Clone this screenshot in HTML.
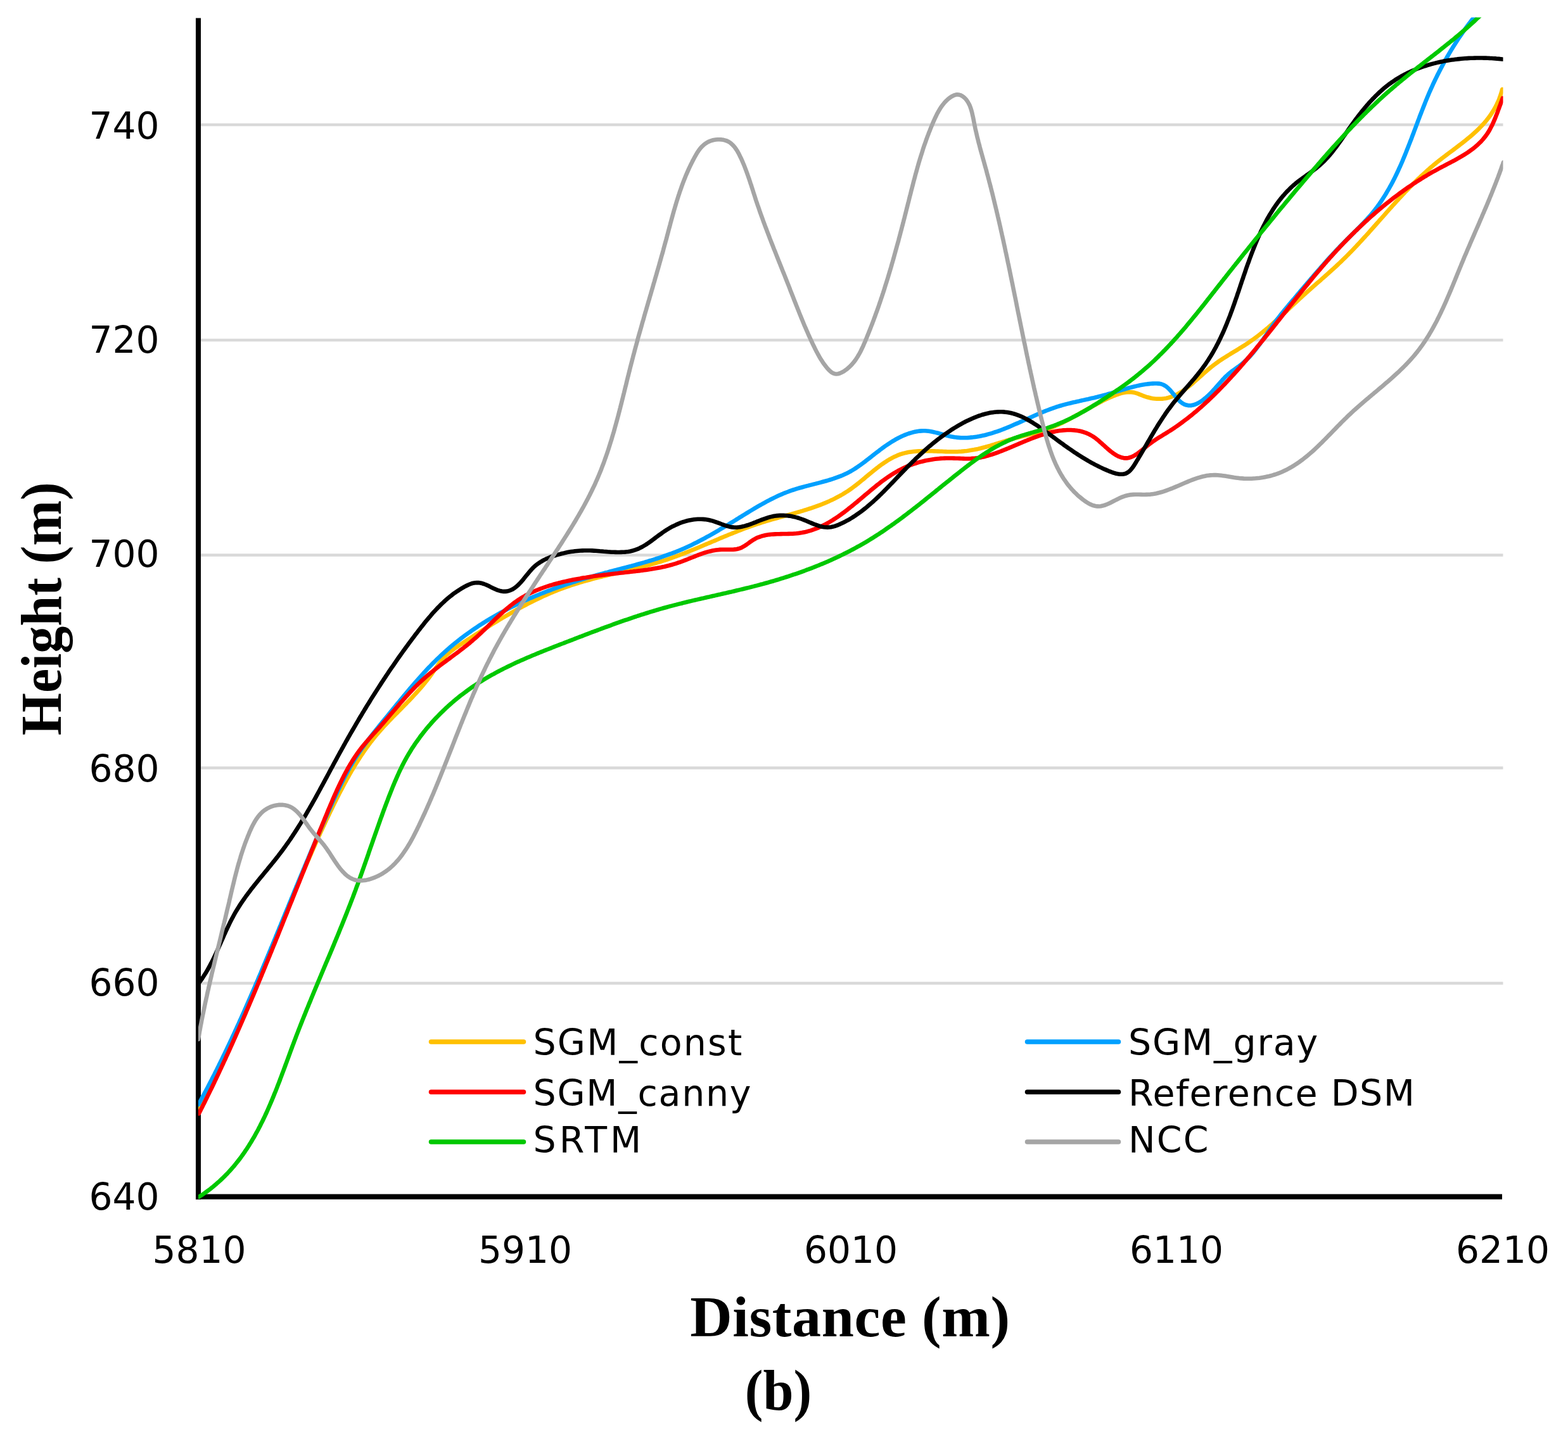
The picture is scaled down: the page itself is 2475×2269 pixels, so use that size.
<!DOCTYPE html>
<html><head><meta charset="utf-8"><title>Height profile (b)</title>
<style>
html,body{margin:0;padding:0;background:#fff;}
body{width:2475px;height:2269px;overflow:hidden;position:relative;}
svg{position:absolute;left:0;top:0;display:block;}
.tick{font-family:"DejaVu Sans","Liberation Sans",sans-serif;font-size:58.2px;fill:#000;}
.leg{font-family:"DejaVu Sans","Liberation Sans",sans-serif;font-size:57px;fill:#000;}
.title{font-family:"Liberation Serif","Times New Roman",serif;font-weight:bold;font-size:92px;fill:#000;}
</style></head>
<body>
<svg width="2475" height="2269" viewBox="0 0 2475 2269" xmlns="http://www.w3.org/2000/svg">
<defs><clipPath id="plot"><rect x="313" y="27.5" width="2059.5" height="1868"/></clipPath></defs>
<rect x="0" y="0" width="2475" height="2269" fill="#fff"/>
<g stroke="#d9d9d9" stroke-width="4.5">
<line x1="317" y1="197" x2="2372.5" y2="197"/>
<line x1="317" y1="537" x2="2372.5" y2="537"/>
<line x1="317" y1="876.5" x2="2372.5" y2="876.5"/>
<line x1="317" y1="1212.5" x2="2372.5" y2="1212.5"/>
<line x1="317" y1="1552.5" x2="2372.5" y2="1552.5"/>
</g>
<line x1="313" y1="28.5" x2="313" y2="1894" stroke="#000" stroke-width="8"/>
<line x1="309" y1="1889.6" x2="2371" y2="1889.6" stroke="#000" stroke-width="8.2"/>
<g clip-path="url(#plot)" fill="none" stroke-width="6.6" stroke-linejoin="round" stroke-linecap="round">
<path stroke="#FFC000" d="M313.0 1752.0L314.4 1749.4L315.9 1746.8L317.3 1744.1L318.8 1741.5L320.2 1738.9L321.6 1736.2L323.1 1733.6L324.5 1730.9L325.9 1728.3L327.3 1725.6L328.7 1723.0L330.1 1720.3L331.4 1717.7L332.8 1715.0L334.2 1712.3L335.5 1709.7L336.9 1707.0L338.3 1704.3L339.6 1701.6L340.9 1698.9L342.3 1696.3L343.6 1693.6L344.9 1690.9L346.3 1688.2L347.6 1685.5L348.9 1682.8L350.2 1680.1L351.5 1677.4L352.8 1674.7L354.1 1672.0L355.4 1669.3L356.6 1666.6L357.9 1663.9L359.2 1661.2L360.5 1658.5L361.7 1655.7L363.0 1653.0L364.2 1650.3L365.5 1647.6L366.7 1644.9L368.0 1642.1L369.2 1639.4L370.5 1636.7L371.7 1633.9L372.9 1631.2L374.1 1628.5L375.4 1625.7L376.6 1623.0L377.8 1620.3L379.0 1617.5L380.2 1614.8L381.4 1612.0L382.6 1609.3L383.8 1606.5L385.0 1603.8L386.2 1601.0L387.4 1598.3L388.5 1595.5L389.7 1592.8L390.9 1590.0L392.1 1587.3L393.3 1584.5L394.4 1581.7L395.6 1579.0L396.8 1576.2L397.9 1573.5L399.1 1570.7L400.2 1567.9L401.4 1565.2L402.5 1562.4L403.7 1559.6L404.8 1556.9L406.0 1554.1L407.1 1551.3L408.3 1548.5L409.4 1545.8L410.6 1543.0L411.7 1540.2L412.9 1537.5L414.0 1534.7L415.1 1531.9L416.3 1529.1L417.4 1526.3L418.5 1523.6L419.7 1520.8L420.8 1518.0L421.9 1515.2L423.0 1512.5L424.2 1509.7L425.3 1506.9L426.4 1504.1L427.6 1501.3L428.7 1498.6L429.8 1495.8L430.9 1493.0L432.1 1490.2L433.2 1487.4L434.3 1484.7L435.4 1481.9L436.5 1479.1L437.7 1476.3L438.8 1473.5L439.9 1470.8L441.0 1468.0L442.2 1465.2L443.3 1462.4L444.4 1459.6L445.5 1456.9L446.7 1454.1L447.8 1451.3L448.9 1448.5L450.0 1445.7L451.2 1443.0L452.3 1440.2L453.4 1437.4L454.6 1434.6L455.7 1431.8L456.8 1429.1L458.0 1426.3L459.1 1423.5L460.3 1420.7L461.4 1418.0L462.5 1415.2L463.7 1412.4L464.8 1409.7L466.0 1406.9L467.1 1404.1L468.3 1401.4L469.4 1398.6L470.6 1395.8L471.7 1393.1L472.9 1390.3L474.0 1387.5L475.2 1384.8L476.4 1382.0L477.5 1379.2L478.7 1376.5L479.9 1373.7L481.1 1371.0L482.2 1368.2L483.4 1365.5L484.6 1362.7L485.8 1360.0L487.0 1357.2L488.2 1354.5L489.4 1351.7L490.6 1349.0L491.8 1346.2L493.0 1343.5L494.2 1340.7L495.4 1338.0L496.6 1335.3L497.8 1332.5L499.0 1329.8L500.3 1327.1L501.5 1324.3L502.7 1321.6L504.0 1318.9L505.2 1316.1L506.5 1313.4L507.7 1310.7L509.0 1308.0L510.2 1305.3L511.5 1302.5L512.8 1299.8L514.0 1297.1L515.3 1294.4L516.6 1291.7L517.9 1289.0L519.2 1286.3L520.5 1283.6L521.8 1280.9L523.1 1278.2L524.4 1275.5L525.7 1272.8L527.0 1270.1L528.3 1267.4L529.7 1264.7L531.0 1262.1L532.3 1259.4L533.7 1256.7L535.0 1254.0L536.4 1251.4L537.8 1248.7L539.2 1246.1L540.6 1243.4L542.0 1240.8L543.4 1238.1L544.8 1235.5L546.2 1232.9L547.6 1230.2L549.1 1227.6L550.6 1225.0L552.0 1222.4L553.5 1219.8L555.0 1217.2L556.5 1214.7L558.1 1212.1L559.6 1209.5L561.1 1207.0L562.7 1204.5L564.3 1201.9L565.9 1199.4L567.5 1196.9L569.1 1194.4L570.8 1191.9L572.5 1189.5L574.1 1187.0L575.8 1184.6L577.6 1182.1L579.3 1179.7L581.1 1177.3L582.8 1174.9L584.6 1172.5L586.5 1170.2L588.3 1167.8L590.2 1165.5L592.0 1163.2L593.9 1160.9L595.9 1158.6L597.8 1156.3L599.8 1154.0L601.8 1151.8L603.8 1149.5L605.8 1147.3L607.8 1145.1L609.9 1142.9L612.0 1140.7L614.0 1138.5L616.1 1136.4L618.2 1134.2L620.3 1132.0L622.4 1129.9L624.6 1127.7L626.7 1125.6L628.8 1123.4L630.9 1121.3L633.1 1119.1L635.2 1116.9L637.3 1114.8L639.4 1112.6L641.6 1110.5L643.7 1108.3L645.8 1106.1L647.9 1103.9L650.0 1101.7L652.0 1099.5L654.1 1097.3L656.1 1095.1L658.2 1092.9L660.2 1090.6L662.2 1088.4L664.2 1086.1L666.1 1083.8L668.1 1081.5L670.0 1079.2L671.9 1076.8L673.8 1074.5L675.6 1072.1L677.4 1069.7L679.2 1067.3L681.0 1064.8L682.7 1062.3L684.4 1059.9L686.1 1057.4L687.8 1054.9L689.6 1052.5L691.3 1050.0L693.1 1047.6L694.9 1045.3L696.7 1043.0L698.6 1040.8L700.6 1038.6L702.7 1036.5L704.8 1034.4L707.0 1032.5L709.2 1030.6L711.5 1028.7L713.8 1026.9L716.2 1025.1L718.6 1023.4L721.0 1021.7L723.4 1020.0L725.9 1018.3L728.4 1016.7L730.9 1015.0L733.4 1013.4L735.9 1011.7L738.4 1010.1L741.0 1008.5L743.5 1006.8L746.0 1005.2L748.5 1003.5L751.1 1001.9L753.6 1000.3L756.1 998.7L758.7 997.0L761.2 995.4L763.8 993.8L766.3 992.2L768.9 990.6L771.4 989.0L774.0 987.4L776.5 985.8L779.1 984.2L781.7 982.6L784.3 981.1L786.8 979.5L789.4 977.9L792.0 976.4L794.6 974.8L797.2 973.3L799.8 971.8L802.4 970.3L805.0 968.8L807.6 967.3L810.3 965.8L812.9 964.3L815.5 962.8L818.2 961.4L820.8 959.9L823.5 958.5L826.1 957.1L828.8 955.7L831.4 954.3L834.1 952.9L836.8 951.5L839.5 950.2L842.2 948.9L844.8 947.5L847.5 946.2L850.3 944.9L853.0 943.7L855.7 942.4L858.4 941.1L861.1 939.9L863.9 938.7L866.6 937.5L869.4 936.3L872.1 935.2L874.9 934.0L877.7 932.9L880.4 931.8L883.2 930.7L886.0 929.7L888.8 928.6L891.6 927.6L894.4 926.6L897.3 925.6L900.1 924.6L902.9 923.7L905.8 922.8L908.6 921.9L911.5 921.0L914.3 920.1L917.2 919.2L920.1 918.4L922.9 917.6L925.8 916.8L928.7 916.0L931.6 915.2L934.5 914.4L937.4 913.6L940.3 912.9L943.2 912.1L946.1 911.4L949.0 910.7L951.9 909.9L954.8 909.2L957.7 908.5L960.7 907.8L963.6 907.1L966.5 906.4L969.4 905.7L972.3 905.0L975.3 904.3L978.2 903.6L981.1 902.9L984.0 902.2L987.0 901.5L989.9 900.8L992.8 900.1L995.7 899.4L998.6 898.7L1001.5 898.0L1004.5 897.3L1007.4 896.5L1010.3 895.8L1013.2 895.1L1016.1 894.3L1019.0 893.5L1021.9 892.8L1024.8 892.0L1027.6 891.2L1030.5 890.4L1033.4 889.5L1036.3 888.7L1039.1 887.8L1042.0 887.0L1044.8 886.1L1047.7 885.2L1050.5 884.3L1053.4 883.3L1056.2 882.4L1059.0 881.4L1061.8 880.4L1064.6 879.4L1067.4 878.4L1070.2 877.3L1073.0 876.3L1075.8 875.2L1078.6 874.2L1081.4 873.1L1084.2 872.0L1087.0 870.9L1089.7 869.8L1092.5 868.6L1095.3 867.5L1098.0 866.4L1100.8 865.2L1103.6 864.1L1106.3 862.9L1109.1 861.8L1111.8 860.6L1114.6 859.4L1117.3 858.3L1120.1 857.1L1122.8 855.9L1125.6 854.8L1128.4 853.6L1131.1 852.4L1133.9 851.3L1136.6 850.1L1139.4 848.9L1142.1 847.8L1144.9 846.6L1147.7 845.5L1150.4 844.3L1153.2 843.2L1156.0 842.1L1158.7 841.0L1161.5 839.9L1164.3 838.7L1167.1 837.7L1169.8 836.6L1172.6 835.5L1175.4 834.4L1178.2 833.4L1181.0 832.4L1183.8 831.4L1186.7 830.4L1189.5 829.4L1192.3 828.4L1195.1 827.4L1198.0 826.5L1200.8 825.6L1203.7 824.7L1206.5 823.8L1209.4 822.9L1212.3 822.1L1215.1 821.2L1218.0 820.4L1220.9 819.6L1223.8 818.8L1226.6 818.0L1229.5 817.1L1232.4 816.3L1235.3 815.6L1238.2 814.8L1241.1 814.0L1244.0 813.2L1246.8 812.4L1249.7 811.6L1252.6 810.8L1255.5 809.9L1258.3 809.1L1261.2 808.3L1264.1 807.4L1266.9 806.6L1269.8 805.7L1272.6 804.8L1275.5 803.9L1278.3 803.0L1281.1 802.1L1283.9 801.1L1286.7 800.1L1289.5 799.1L1292.3 798.1L1295.1 797.1L1297.9 796.0L1300.6 794.9L1303.4 793.7L1306.1 792.6L1308.8 791.4L1311.5 790.1L1314.2 788.9L1316.9 787.6L1319.5 786.2L1322.2 784.8L1324.8 783.4L1327.4 782.0L1330.0 780.5L1332.6 778.9L1335.1 777.3L1337.7 775.7L1340.2 774.0L1342.7 772.2L1345.2 770.5L1347.6 768.6L1350.1 766.8L1352.5 764.9L1355.0 763.0L1357.4 761.0L1359.8 759.0L1362.2 757.1L1364.6 755.1L1366.9 753.1L1369.3 751.1L1371.7 749.1L1374.1 747.2L1376.5 745.2L1378.9 743.2L1381.3 741.3L1383.7 739.4L1386.1 737.6L1388.5 735.7L1391.0 733.9L1393.4 732.2L1395.9 730.5L1398.3 728.9L1400.8 727.3L1403.4 725.7L1405.9 724.3L1408.5 722.9L1411.0 721.6L1413.6 720.4L1416.3 719.2L1418.9 718.2L1421.6 717.2L1424.4 716.3L1427.1 715.6L1429.9 714.9L1432.7 714.3L1435.6 713.8L1438.5 713.4L1441.4 713.0L1444.3 712.7L1447.2 712.5L1450.2 712.3L1453.1 712.2L1456.1 712.1L1459.1 712.1L1462.2 712.1L1465.2 712.1L1468.2 712.2L1471.3 712.3L1474.3 712.4L1477.4 712.5L1480.5 712.6L1483.5 712.7L1486.6 712.8L1489.7 713.0L1492.8 713.1L1495.8 713.2L1498.9 713.2L1501.9 713.3L1505.0 713.3L1508.0 713.2L1511.1 713.2L1514.1 713.0L1517.1 712.9L1520.0 712.6L1523.0 712.3L1526.0 712.0L1528.9 711.6L1531.8 711.1L1534.7 710.6L1537.6 710.1L1540.5 709.5L1543.4 708.9L1546.3 708.2L1549.1 707.5L1552.0 706.7L1554.8 706.0L1557.7 705.2L1560.5 704.4L1563.4 703.6L1566.2 702.7L1569.0 701.9L1571.9 701.0L1574.7 700.1L1577.5 699.2L1580.4 698.3L1583.2 697.5L1586.1 696.6L1588.9 695.7L1591.8 694.8L1594.7 694.0L1597.6 693.2L1600.5 692.3L1603.4 691.5L1606.3 690.8L1609.2 690.0L1612.1 689.3L1615.0 688.5L1618.0 687.8L1620.9 687.0L1623.8 686.3L1626.8 685.5L1629.7 684.8L1632.6 684.0L1635.5 683.2L1638.4 682.4L1641.3 681.6L1644.2 680.7L1647.1 679.8L1649.9 678.8L1652.8 677.8L1655.6 676.8L1658.4 675.7L1661.2 674.6L1663.9 673.5L1666.7 672.3L1669.4 671.1L1672.1 669.8L1674.8 668.6L1677.5 667.2L1680.2 665.9L1682.8 664.5L1685.5 663.2L1688.1 661.8L1690.8 660.4L1693.4 658.9L1696.0 657.5L1698.7 656.0L1701.3 654.6L1703.9 653.1L1706.5 651.6L1709.1 650.1L1711.7 648.6L1714.4 647.2L1717.0 645.7L1719.6 644.2L1722.2 642.8L1724.8 641.3L1727.5 639.9L1730.1 638.5L1732.7 637.0L1735.4 635.7L1738.0 634.3L1740.7 632.9L1743.4 631.6L1746.1 630.3L1748.8 629.1L1751.5 627.8L1754.3 626.6L1757.0 625.5L1759.8 624.4L1762.5 623.3L1765.3 622.3L1768.2 621.4L1771.0 620.6L1773.8 620.0L1776.6 619.5L1779.5 619.2L1782.4 619.1L1785.2 619.2L1788.1 619.5L1791.0 620.1L1793.9 620.9L1796.8 621.9L1799.7 623.1L1802.6 624.2L1805.5 625.4L1808.4 626.4L1811.4 627.3L1814.3 628.0L1817.2 628.7L1820.2 629.2L1823.1 629.5L1826.0 629.7L1828.9 629.8L1831.8 629.8L1834.7 629.6L1837.5 629.3L1840.3 628.9L1843.1 628.3L1845.8 627.5L1848.5 626.7L1851.1 625.7L1853.7 624.6L1856.3 623.4L1858.9 622.1L1861.4 620.7L1863.9 619.2L1866.4 617.6L1868.8 615.9L1871.2 614.2L1873.6 612.4L1876.0 610.5L1878.4 608.6L1880.8 606.7L1883.1 604.7L1885.5 602.6L1887.8 600.6L1890.2 598.5L1892.5 596.4L1894.9 594.3L1897.2 592.2L1899.5 590.1L1901.9 588.0L1904.3 586.0L1906.6 583.9L1909.0 581.9L1911.4 579.9L1913.8 578.0L1916.2 576.2L1918.7 574.3L1921.2 572.5L1923.6 570.8L1926.1 569.1L1928.6 567.4L1931.1 565.8L1933.6 564.2L1936.2 562.6L1938.7 561.0L1941.2 559.5L1943.7 557.9L1946.3 556.4L1948.8 554.8L1951.3 553.3L1953.8 551.8L1956.3 550.2L1958.9 548.7L1961.3 547.1L1963.8 545.6L1966.3 544.0L1968.8 542.4L1971.2 540.7L1973.6 539.0L1976.1 537.3L1978.5 535.6L1980.8 533.9L1983.2 532.1L1985.6 530.3L1987.9 528.5L1990.3 526.6L1992.6 524.8L1994.9 522.9L1997.2 521.0L1999.5 519.1L2001.8 517.2L2004.0 515.2L2006.3 513.2L2008.6 511.3L2010.8 509.3L2013.1 507.3L2015.3 505.3L2017.5 503.2L2019.8 501.2L2022.0 499.2L2024.2 497.1L2026.4 495.1L2028.7 493.0L2030.9 491.0L2033.1 488.9L2035.3 486.8L2037.5 484.8L2039.7 482.7L2041.9 480.6L2044.1 478.6L2046.3 476.5L2048.5 474.5L2050.8 472.4L2053.0 470.4L2055.2 468.3L2057.4 466.3L2059.7 464.3L2061.9 462.2L2064.1 460.2L2066.4 458.2L2068.6 456.2L2070.9 454.2L2073.1 452.3L2075.4 450.3L2077.6 448.3L2079.9 446.3L2082.1 444.4L2084.4 442.4L2086.6 440.4L2088.9 438.4L2091.1 436.5L2093.3 434.5L2095.6 432.5L2097.8 430.5L2100.0 428.5L2102.2 426.5L2104.5 424.5L2106.7 422.5L2108.9 420.5L2111.0 418.5L2113.2 416.4L2115.4 414.4L2117.5 412.3L2119.7 410.2L2121.8 408.2L2123.9 406.1L2126.0 404.0L2128.1 401.9L2130.2 399.7L2132.3 397.6L2134.4 395.5L2136.5 393.3L2138.5 391.1L2140.6 389.0L2142.6 386.8L2144.7 384.6L2146.7 382.4L2148.7 380.2L2150.7 378.0L2152.7 375.8L2154.8 373.6L2156.8 371.4L2158.8 369.2L2160.8 367.0L2162.7 364.7L2164.7 362.5L2166.7 360.3L2168.7 358.0L2170.7 355.8L2172.7 353.5L2174.7 351.3L2176.6 349.0L2178.6 346.8L2180.6 344.6L2182.6 342.3L2184.6 340.1L2186.6 337.8L2188.5 335.6L2190.5 333.4L2192.5 331.1L2194.5 328.9L2196.5 326.7L2198.5 324.4L2200.5 322.2L2202.5 320.0L2204.5 317.8L2206.6 315.6L2208.6 313.4L2210.6 311.2L2212.7 309.0L2214.7 306.8L2216.8 304.6L2218.8 302.4L2220.9 300.3L2223.0 298.1L2225.0 296.0L2227.1 293.8L2229.2 291.7L2231.3 289.6L2233.5 287.5L2235.6 285.4L2237.7 283.3L2239.9 281.3L2242.1 279.2L2244.2 277.1L2246.4 275.1L2248.6 273.1L2250.8 271.1L2253.1 269.1L2255.3 267.1L2257.6 265.1L2259.8 263.2L2262.1 261.3L2264.4 259.3L2266.8 257.4L2269.1 255.5L2271.4 253.7L2273.8 251.8L2276.2 250.0L2278.6 248.1L2281.0 246.3L2283.4 244.5L2285.8 242.7L2288.2 240.9L2290.6 239.1L2293.0 237.3L2295.4 235.5L2297.8 233.7L2300.2 231.8L2302.6 230.0L2305.0 228.2L2307.4 226.4L2309.7 224.5L2312.1 222.7L2314.4 220.8L2316.7 218.9L2319.0 217.0L2321.3 215.1L2323.5 213.2L2325.7 211.2L2327.9 209.2L2330.1 207.2L2332.3 205.2L2334.4 203.1L2336.4 201.0L2338.5 198.9L2340.5 196.8L2342.5 194.6L2344.4 192.3L2346.3 190.1L2348.1 187.8L2349.9 185.4L2351.7 183.0L2353.4 180.6L2355.0 178.1L2356.6 175.6L2358.2 173.0L2359.7 170.4L2361.1 167.7L2362.5 165.0L2363.8 162.2L2365.1 159.4L2366.3 156.5L2367.4 153.5L2368.4 150.5L2369.4 147.4L2370.4 144.2L2371.2 141.0"/>
<path stroke="#00A0FF" d="M313.2 1744.1L314.6 1741.4L316.1 1738.8L317.5 1736.2L318.9 1733.5L320.3 1730.9L321.8 1728.3L323.2 1725.6L324.6 1723.0L326.0 1720.3L327.4 1717.7L328.8 1715.0L330.1 1712.4L331.5 1709.7L332.9 1707.1L334.3 1704.4L335.6 1701.7L337.0 1699.1L338.4 1696.4L339.7 1693.7L341.1 1691.0L342.4 1688.4L343.7 1685.7L345.1 1683.0L346.4 1680.3L347.7 1677.6L349.0 1674.9L350.4 1672.2L351.7 1669.5L353.0 1666.8L354.3 1664.1L355.6 1661.4L356.9 1658.7L358.2 1656.0L359.5 1653.3L360.7 1650.6L362.0 1647.9L363.3 1645.2L364.6 1642.5L365.8 1639.8L367.1 1637.0L368.4 1634.3L369.6 1631.6L370.9 1628.9L372.1 1626.1L373.4 1623.4L374.6 1620.7L375.9 1618.0L377.1 1615.2L378.3 1612.5L379.6 1609.8L380.8 1607.0L382.0 1604.3L383.3 1601.5L384.5 1598.8L385.7 1596.1L386.9 1593.3L388.1 1590.6L389.3 1587.8L390.5 1585.1L391.7 1582.3L392.9 1579.6L394.1 1576.8L395.3 1574.1L396.5 1571.3L397.7 1568.6L398.9 1565.8L400.1 1563.1L401.3 1560.3L402.5 1557.6L403.6 1554.8L404.8 1552.0L406.0 1549.3L407.2 1546.5L408.3 1543.8L409.5 1541.0L410.7 1538.2L411.9 1535.5L413.0 1532.7L414.2 1529.9L415.3 1527.2L416.5 1524.4L417.7 1521.6L418.8 1518.9L420.0 1516.1L421.1 1513.3L422.3 1510.6L423.4 1507.8L424.6 1505.0L425.7 1502.3L426.9 1499.5L428.0 1496.7L429.2 1494.0L430.3 1491.2L431.5 1488.4L432.6 1485.6L433.8 1482.9L434.9 1480.1L436.0 1477.3L437.2 1474.6L438.3 1471.8L439.5 1469.0L440.6 1466.2L441.7 1463.5L442.9 1460.7L444.0 1457.9L445.2 1455.2L446.3 1452.4L447.4 1449.6L448.6 1446.8L449.7 1444.1L450.8 1441.3L452.0 1438.5L453.1 1435.8L454.3 1433.0L455.4 1430.2L456.5 1427.4L457.7 1424.7L458.8 1421.9L459.9 1419.1L461.1 1416.4L462.2 1413.6L463.4 1410.8L464.5 1408.0L465.6 1405.3L466.8 1402.5L467.9 1399.7L469.1 1397.0L470.2 1394.2L471.4 1391.4L472.5 1388.7L473.7 1385.9L474.8 1383.1L476.0 1380.4L477.1 1377.6L478.3 1374.8L479.4 1372.1L480.6 1369.3L481.7 1366.5L482.9 1363.8L484.0 1361.0L485.2 1358.2L486.4 1355.5L487.5 1352.7L488.7 1349.9L489.9 1347.2L491.0 1344.4L492.2 1341.7L493.4 1338.9L494.6 1336.1L495.7 1333.4L496.9 1330.6L498.1 1327.9L499.3 1325.1L500.5 1322.4L501.7 1319.6L502.8 1316.9L504.0 1314.1L505.2 1311.4L506.4 1308.6L507.6 1305.9L508.8 1303.1L510.0 1300.4L511.2 1297.6L512.5 1294.9L513.7 1292.1L514.9 1289.4L516.1 1286.6L517.3 1283.9L518.5 1281.2L519.8 1278.4L521.0 1275.7L522.2 1272.9L523.5 1270.2L524.7 1267.5L526.0 1264.7L527.2 1262.0L528.5 1259.3L529.7 1256.6L531.0 1253.8L532.2 1251.1L533.5 1248.4L534.8 1245.7L536.1 1243.0L537.4 1240.3L538.7 1237.6L540.1 1234.9L541.4 1232.2L542.7 1229.5L544.1 1226.9L545.5 1224.2L546.9 1221.6L548.3 1218.9L549.7 1216.3L551.2 1213.7L552.6 1211.1L554.1 1208.5L555.6 1205.9L557.2 1203.4L558.7 1200.8L560.3 1198.3L561.9 1195.8L563.5 1193.3L565.1 1190.8L566.8 1188.3L568.5 1185.8L570.2 1183.4L571.9 1180.9L573.6 1178.5L575.4 1176.1L577.2 1173.7L579.0 1171.3L580.8 1168.9L582.6 1166.5L584.4 1164.1L586.2 1161.8L588.1 1159.4L589.9 1157.1L591.8 1154.7L593.7 1152.4L595.6 1150.0L597.4 1147.7L599.3 1145.3L601.2 1143.0L603.1 1140.7L605.0 1138.4L606.9 1136.0L608.9 1133.7L610.8 1131.4L612.7 1129.0L614.6 1126.7L616.5 1124.4L618.4 1122.0L620.3 1119.7L622.2 1117.4L624.1 1115.0L626.0 1112.7L627.9 1110.4L629.9 1108.0L631.8 1105.7L633.7 1103.4L635.6 1101.1L637.5 1098.7L639.5 1096.4L641.4 1094.1L643.3 1091.8L645.3 1089.5L647.2 1087.2L649.2 1084.9L651.1 1082.6L653.1 1080.3L655.0 1078.1L657.0 1075.8L659.0 1073.6L661.0 1071.3L663.0 1069.1L665.0 1066.8L667.0 1064.6L669.0 1062.4L671.1 1060.2L673.1 1058.0L675.1 1055.8L677.2 1053.6L679.3 1051.5L681.4 1049.3L683.5 1047.2L685.6 1045.1L687.7 1043.0L689.8 1040.9L692.0 1038.8L694.1 1036.8L696.3 1034.7L698.5 1032.7L700.7 1030.7L702.9 1028.7L705.1 1026.7L707.4 1024.7L709.6 1022.8L711.9 1020.8L714.2 1018.9L716.5 1017.0L718.8 1015.1L721.1 1013.3L723.5 1011.4L725.8 1009.6L728.2 1007.7L730.6 1005.9L732.9 1004.2L735.3 1002.4L737.8 1000.6L740.2 998.9L742.6 997.2L745.1 995.4L747.5 993.7L750.0 992.1L752.5 990.4L754.9 988.8L757.4 987.1L760.0 985.5L762.5 983.9L765.0 982.3L767.5 980.7L770.1 979.2L772.6 977.6L775.2 976.1L777.8 974.6L780.4 973.1L783.0 971.6L785.6 970.1L788.2 968.7L790.8 967.2L793.4 965.8L796.1 964.4L798.7 963.0L801.4 961.6L804.0 960.2L806.7 958.9L809.4 957.5L812.1 956.2L814.8 954.9L817.5 953.6L820.2 952.3L822.9 951.0L825.6 949.8L828.3 948.5L831.1 947.3L833.8 946.0L836.5 944.8L839.3 943.6L842.1 942.4L844.8 941.3L847.6 940.1L850.4 939.0L853.2 937.8L855.9 936.7L858.7 935.6L861.5 934.5L864.3 933.4L867.2 932.3L870.0 931.3L872.8 930.2L875.6 929.2L878.4 928.1L881.3 927.1L884.1 926.1L887.0 925.1L889.8 924.1L892.7 923.2L895.5 922.2L898.4 921.3L901.2 920.3L904.1 919.4L907.0 918.5L909.8 917.6L912.7 916.7L915.6 915.8L918.5 914.9L921.4 914.0L924.2 913.2L927.1 912.3L930.0 911.5L932.9 910.7L935.8 909.9L938.7 909.1L941.6 908.3L944.5 907.5L947.4 906.7L950.3 905.9L953.2 905.1L956.1 904.3L959.0 903.6L961.9 902.8L964.8 902.0L967.7 901.3L970.6 900.5L973.5 899.8L976.4 899.0L979.3 898.3L982.2 897.5L985.1 896.7L988.0 896.0L990.9 895.2L993.8 894.4L996.7 893.7L999.6 892.9L1002.5 892.1L1005.4 891.3L1008.2 890.5L1011.1 889.7L1014.0 888.9L1016.8 888.1L1019.7 887.2L1022.6 886.4L1025.4 885.5L1028.3 884.7L1031.1 883.8L1034.0 882.9L1036.8 882.0L1039.6 881.1L1042.5 880.1L1045.3 879.2L1048.1 878.2L1050.9 877.2L1053.7 876.2L1056.5 875.2L1059.3 874.2L1062.1 873.1L1064.8 872.1L1067.6 871.0L1070.4 869.9L1073.1 868.7L1075.9 867.6L1078.6 866.4L1081.3 865.2L1084.0 864.0L1086.8 862.7L1089.5 861.4L1092.2 860.2L1094.8 858.8L1097.5 857.5L1100.2 856.2L1102.9 854.8L1105.5 853.4L1108.2 852.0L1110.8 850.6L1113.5 849.2L1116.1 847.7L1118.7 846.3L1121.4 844.8L1124.0 843.3L1126.6 841.8L1129.2 840.3L1131.8 838.8L1134.4 837.3L1137.0 835.7L1139.6 834.2L1142.2 832.6L1144.7 831.1L1147.3 829.5L1149.9 828.0L1152.5 826.4L1155.0 824.8L1157.6 823.3L1160.2 821.7L1162.7 820.1L1165.3 818.5L1167.8 816.9L1170.4 815.4L1172.9 813.8L1175.5 812.2L1178.0 810.7L1180.6 809.1L1183.1 807.5L1185.7 806.0L1188.2 804.5L1190.8 802.9L1193.4 801.4L1195.9 799.9L1198.5 798.4L1201.1 797.0L1203.7 795.5L1206.3 794.1L1208.9 792.6L1211.5 791.2L1214.1 789.9L1216.7 788.5L1219.4 787.2L1222.0 785.9L1224.7 784.6L1227.4 783.3L1230.1 782.1L1232.8 780.9L1235.5 779.8L1238.2 778.6L1241.0 777.5L1243.8 776.5L1246.5 775.4L1249.4 774.4L1252.2 773.5L1255.0 772.6L1257.9 771.7L1260.8 770.8L1263.7 770.0L1266.6 769.2L1269.5 768.4L1272.4 767.6L1275.3 766.9L1278.2 766.1L1281.2 765.4L1284.1 764.6L1287.0 763.9L1290.0 763.1L1292.9 762.4L1295.8 761.6L1298.7 760.8L1301.6 760.0L1304.5 759.2L1307.4 758.4L1310.3 757.5L1313.1 756.6L1316.0 755.7L1318.8 754.7L1321.6 753.7L1324.3 752.7L1327.1 751.6L1329.8 750.5L1332.5 749.3L1335.2 748.1L1337.8 746.8L1340.4 745.4L1343.0 744.0L1345.5 742.5L1348.0 741.0L1350.5 739.4L1352.9 737.8L1355.4 736.1L1357.8 734.4L1360.2 732.6L1362.6 730.9L1365.0 729.1L1367.4 727.2L1369.8 725.4L1372.2 723.5L1374.6 721.7L1376.9 719.8L1379.3 717.9L1381.7 716.0L1384.2 714.1L1386.6 712.3L1389.0 710.4L1391.5 708.6L1394.0 706.7L1396.5 704.9L1399.1 703.1L1401.6 701.4L1404.2 699.7L1406.9 698.0L1409.5 696.4L1412.2 694.8L1414.9 693.2L1417.7 691.8L1420.4 690.4L1423.2 689.0L1426.0 687.8L1428.8 686.6L1431.6 685.5L1434.4 684.5L1437.3 683.6L1440.1 682.8L1443.0 682.1L1445.8 681.5L1448.7 681.0L1451.6 680.6L1454.5 680.4L1457.3 680.3L1460.2 680.3L1463.1 680.5L1466.0 680.8L1468.9 681.2L1471.7 681.8L1474.6 682.4L1477.5 683.1L1480.4 683.8L1483.3 684.6L1486.2 685.4L1489.1 686.2L1492.0 687.0L1494.9 687.8L1497.9 688.5L1500.8 689.2L1503.8 689.7L1506.7 690.2L1509.7 690.6L1512.7 690.9L1515.7 691.1L1518.7 691.2L1521.7 691.2L1524.7 691.2L1527.6 691.1L1530.6 690.9L1533.5 690.6L1536.5 690.3L1539.4 689.9L1542.3 689.5L1545.2 689.0L1548.1 688.4L1551.0 687.8L1553.9 687.2L1556.8 686.5L1559.6 685.7L1562.5 684.9L1565.3 684.1L1568.2 683.2L1571.0 682.2L1573.8 681.3L1576.6 680.3L1579.5 679.3L1582.3 678.2L1585.1 677.1L1587.9 676.0L1590.7 674.9L1593.5 673.7L1596.3 672.5L1599.1 671.3L1601.8 670.1L1604.6 668.9L1607.4 667.7L1610.2 666.4L1613.0 665.2L1615.7 663.9L1618.5 662.7L1621.3 661.4L1624.1 660.2L1626.9 658.9L1629.6 657.7L1632.4 656.5L1635.2 655.2L1638.0 654.0L1640.8 652.8L1643.6 651.7L1646.3 650.5L1649.1 649.4L1651.9 648.3L1654.7 647.2L1657.5 646.1L1660.4 645.1L1663.2 644.1L1666.0 643.2L1668.8 642.2L1671.6 641.3L1674.5 640.5L1677.3 639.7L1680.2 638.9L1683.0 638.1L1685.9 637.4L1688.8 636.7L1691.6 636.0L1694.5 635.3L1697.4 634.7L1700.3 634.0L1703.1 633.4L1706.0 632.7L1708.9 632.1L1711.8 631.4L1714.7 630.8L1717.6 630.2L1720.5 629.5L1723.5 628.8L1726.4 628.2L1729.3 627.5L1732.2 626.8L1735.1 626.0L1738.1 625.3L1741.0 624.5L1743.9 623.7L1746.9 622.9L1749.8 622.0L1752.7 621.2L1755.7 620.3L1758.6 619.4L1761.6 618.5L1764.5 617.6L1767.4 616.8L1770.4 615.9L1773.3 615.0L1776.2 614.2L1779.2 613.3L1782.1 612.5L1785.0 611.8L1787.9 611.0L1790.8 610.3L1793.7 609.6L1796.6 608.9L1799.5 608.3L1802.4 607.8L1805.3 607.3L1808.2 606.8L1811.0 606.4L1813.9 606.1L1816.8 605.8L1819.6 605.6L1822.4 605.5L1825.3 605.5L1828.0 605.6L1830.8 605.9L1833.4 606.5L1836.0 607.5L1838.4 608.7L1840.8 610.3L1843.1 612.2L1845.3 614.3L1847.5 616.6L1849.6 619.1L1851.7 621.6L1853.9 624.2L1856.0 626.8L1858.1 629.3L1860.3 631.7L1862.6 633.9L1864.9 635.8L1867.4 637.4L1869.9 638.7L1872.5 639.6L1875.2 640.1L1878.0 640.3L1880.7 640.1L1883.5 639.5L1886.3 638.6L1889.0 637.5L1891.7 636.1L1894.4 634.6L1897.0 632.9L1899.4 631.1L1901.8 629.2L1904.1 627.3L1906.4 625.2L1908.6 623.1L1910.8 621.0L1912.9 618.8L1914.9 616.5L1917.0 614.3L1919.0 612.0L1921.0 609.7L1923.0 607.4L1925.0 605.1L1927.0 602.8L1929.0 600.6L1931.1 598.4L1933.1 596.2L1935.2 594.1L1937.4 592.1L1939.5 590.2L1941.8 588.3L1944.1 586.5L1946.4 584.8L1948.8 583.1L1951.2 581.4L1953.5 579.8L1955.9 578.1L1958.2 576.3L1960.4 574.5L1962.7 572.7L1964.8 570.7L1966.9 568.7L1969.0 566.7L1971.1 564.6L1973.1 562.5L1975.0 560.3L1977.0 558.0L1978.9 555.8L1980.7 553.5L1982.6 551.1L1984.4 548.7L1986.2 546.3L1988.0 543.9L1989.8 541.5L1991.5 539.0L1993.3 536.5L1995.0 534.0L1996.8 531.5L1998.5 529.0L2000.2 526.5L2001.9 523.9L2003.7 521.4L2005.4 518.9L2007.2 516.4L2008.9 513.9L2010.7 511.4L2012.5 509.0L2014.3 506.5L2016.1 504.1L2017.9 501.7L2019.8 499.3L2021.6 496.9L2023.5 494.6L2025.4 492.2L2027.3 489.9L2029.2 487.6L2031.1 485.3L2033.0 483.0L2034.9 480.7L2036.9 478.4L2038.8 476.1L2040.7 473.8L2042.7 471.6L2044.6 469.3L2046.5 467.0L2048.4 464.7L2050.4 462.5L2052.3 460.2L2054.2 457.9L2056.1 455.7L2058.1 453.4L2060.0 451.1L2061.9 448.9L2063.8 446.6L2065.8 444.3L2067.7 442.1L2069.6 439.8L2071.6 437.6L2073.5 435.3L2075.4 433.1L2077.4 430.8L2079.3 428.6L2081.3 426.3L2083.3 424.1L2085.2 421.9L2087.2 419.6L2089.2 417.4L2091.1 415.2L2093.1 413.0L2095.1 410.7L2097.1 408.5L2099.1 406.3L2101.2 404.1L2103.2 401.9L2105.2 399.7L2107.3 397.5L2109.3 395.3L2111.4 393.2L2113.5 391.0L2115.5 388.8L2117.6 386.6L2119.7 384.5L2121.9 382.3L2124.0 380.2L2126.1 378.0L2128.3 375.9L2130.4 373.8L2132.6 371.6L2134.8 369.5L2136.9 367.3L2139.1 365.2L2141.3 363.1L2143.4 360.9L2145.6 358.8L2147.7 356.6L2149.8 354.4L2151.9 352.3L2154.0 350.1L2156.1 347.9L2158.1 345.6L2160.2 343.4L2162.1 341.1L2164.1 338.9L2166.0 336.6L2167.9 334.2L2169.8 331.9L2171.6 329.5L2173.4 327.2L2175.1 324.8L2176.9 322.4L2178.6 319.9L2180.3 317.5L2181.9 315.0L2183.5 312.5L2185.1 310.0L2186.7 307.5L2188.2 305.0L2189.7 302.4L2191.2 299.9L2192.7 297.3L2194.1 294.7L2195.6 292.1L2197.0 289.5L2198.4 286.9L2199.7 284.2L2201.1 281.6L2202.4 278.9L2203.7 276.2L2205.0 273.5L2206.3 270.8L2207.5 268.1L2208.7 265.4L2210.0 262.7L2211.2 260.0L2212.4 257.2L2213.6 254.5L2214.7 251.7L2215.9 248.9L2217.0 246.2L2218.2 243.4L2219.3 240.6L2220.4 237.8L2221.5 235.0L2222.6 232.2L2223.7 229.4L2224.8 226.6L2225.9 223.8L2227.0 221.0L2228.1 218.2L2229.1 215.4L2230.2 212.5L2231.3 209.7L2232.3 206.9L2233.4 204.1L2234.5 201.2L2235.5 198.4L2236.6 195.6L2237.6 192.8L2238.7 189.9L2239.8 187.1L2240.8 184.3L2241.9 181.5L2243.0 178.7L2244.1 175.9L2245.2 173.1L2246.3 170.3L2247.4 167.5L2248.5 164.7L2249.6 161.9L2250.7 159.1L2251.9 156.3L2253.0 153.6L2254.2 150.8L2255.3 148.1L2256.5 145.3L2257.7 142.6L2258.9 139.9L2260.2 137.1L2261.4 134.4L2262.6 131.7L2263.9 129.0L2265.2 126.3L2266.5 123.6L2267.8 121.0L2269.1 118.3L2270.4 115.7L2271.8 113.0L2273.1 110.4L2274.5 107.7L2275.9 105.1L2277.3 102.5L2278.7 99.9L2280.1 97.3L2281.5 94.7L2283.0 92.1L2284.5 89.5L2286.0 87.0L2287.5 84.4L2289.0 81.8L2290.5 79.3L2292.1 76.8L2293.6 74.2L2295.2 71.7L2296.8 69.2L2298.4 66.7L2300.0 64.2L2301.6 61.7L2303.3 59.2L2305.0 56.8L2306.7 54.3L2308.4 51.8L2310.1 49.4L2311.8 47.0L2313.6 44.5L2315.3 42.1L2317.1 39.7L2318.9 37.3L2320.7 34.9L2322.5 32.5L2324.4 30.1L2326.3 27.7L2328.1 25.3L2330.0 23.0L2332.0 20.6L2333.9 18.3L2335.8 16.0L2337.8 13.6L2339.8 11.3L2341.8 9.0L2343.8 6.7L2345.9 4.4"/>
<path stroke="#FF0000" d="M313.9 1758.4L315.2 1755.7L316.6 1753.1L317.9 1750.4L319.3 1747.7L320.6 1745.0L322.0 1742.4L323.3 1739.7L324.6 1737.0L326.0 1734.3L327.3 1731.6L328.6 1728.9L329.9 1726.3L331.2 1723.6L332.5 1720.9L333.9 1718.2L335.2 1715.5L336.5 1712.8L337.8 1710.1L339.0 1707.4L340.3 1704.7L341.6 1702.0L342.9 1699.3L344.2 1696.6L345.5 1693.9L346.7 1691.2L348.0 1688.4L349.3 1685.7L350.5 1683.0L351.8 1680.3L353.0 1677.6L354.3 1674.9L355.6 1672.2L356.8 1669.4L358.0 1666.7L359.3 1664.0L360.5 1661.3L361.8 1658.5L363.0 1655.8L364.2 1653.1L365.5 1650.3L366.7 1647.6L367.9 1644.9L369.1 1642.1L370.4 1639.4L371.6 1636.7L372.8 1633.9L374.0 1631.2L375.2 1628.5L376.4 1625.7L377.6 1623.0L378.8 1620.2L380.0 1617.5L381.2 1614.7L382.4 1612.0L383.6 1609.2L384.8 1606.5L386.0 1603.7L387.2 1601.0L388.3 1598.2L389.5 1595.5L390.7 1592.7L391.9 1590.0L393.1 1587.2L394.2 1584.5L395.4 1581.7L396.6 1578.9L397.7 1576.2L398.9 1573.4L400.1 1570.6L401.2 1567.9L402.4 1565.1L403.5 1562.4L404.7 1559.6L405.9 1556.8L407.0 1554.1L408.2 1551.3L409.3 1548.5L410.5 1545.8L411.6 1543.0L412.8 1540.2L413.9 1537.4L415.0 1534.7L416.2 1531.9L417.3 1529.1L418.5 1526.4L419.6 1523.6L420.7 1520.8L421.9 1518.0L423.0 1515.3L424.1 1512.5L425.3 1509.7L426.4 1506.9L427.5 1504.2L428.7 1501.4L429.8 1498.6L430.9 1495.8L432.0 1493.0L433.2 1490.3L434.3 1487.5L435.4 1484.7L436.5 1481.9L437.7 1479.1L438.8 1476.4L439.9 1473.6L441.0 1470.8L442.1 1468.0L443.3 1465.2L444.4 1462.4L445.5 1459.7L446.6 1456.9L447.7 1454.1L448.8 1451.3L449.9 1448.5L451.1 1445.7L452.2 1443.0L453.3 1440.2L454.4 1437.4L455.5 1434.6L456.6 1431.8L457.7 1429.0L458.8 1426.3L460.0 1423.5L461.1 1420.7L462.2 1417.9L463.3 1415.1L464.4 1412.3L465.5 1409.6L466.6 1406.8L467.7 1404.0L468.8 1401.2L470.0 1398.4L471.1 1395.6L472.2 1392.9L473.3 1390.1L474.4 1387.3L475.5 1384.5L476.6 1381.7L477.7 1378.9L478.9 1376.2L480.0 1373.4L481.1 1370.6L482.2 1367.8L483.3 1365.0L484.4 1362.3L485.5 1359.5L486.7 1356.7L487.8 1353.9L488.9 1351.1L490.0 1348.4L491.1 1345.6L492.2 1342.8L493.4 1340.0L494.5 1337.2L495.6 1334.5L496.7 1331.7L497.8 1328.9L499.0 1326.1L500.1 1323.4L501.2 1320.6L502.3 1317.8L503.5 1315.1L504.6 1312.3L505.7 1309.5L506.9 1306.7L508.0 1304.0L509.1 1301.2L510.3 1298.4L511.4 1295.7L512.5 1292.9L513.7 1290.1L514.8 1287.4L516.0 1284.6L517.1 1281.8L518.2 1279.1L519.4 1276.3L520.6 1273.6L521.7 1270.8L522.9 1268.1L524.1 1265.3L525.2 1262.6L526.4 1259.8L527.6 1257.1L528.8 1254.4L530.1 1251.6L531.3 1248.9L532.5 1246.2L533.8 1243.5L535.1 1240.7L536.4 1238.0L537.7 1235.3L539.0 1232.6L540.3 1230.0L541.7 1227.3L543.0 1224.6L544.4 1222.0L545.8 1219.3L547.3 1216.7L548.7 1214.0L550.2 1211.4L551.7 1208.8L553.2 1206.2L554.8 1203.7L556.4 1201.1L558.0 1198.6L559.6 1196.1L561.3 1193.6L563.0 1191.1L564.7 1188.7L566.4 1186.3L568.2 1183.9L570.0 1181.5L571.9 1179.2L573.8 1176.9L575.7 1174.6L577.6 1172.3L579.6 1170.1L581.5 1167.8L583.5 1165.6L585.5 1163.4L587.5 1161.1L589.5 1158.9L591.5 1156.7L593.5 1154.5L595.6 1152.3L597.6 1150.0L599.6 1147.8L601.5 1145.5L603.5 1143.3L605.5 1141.0L607.5 1138.7L609.4 1136.4L611.4 1134.1L613.4 1131.8L615.3 1129.5L617.3 1127.2L619.3 1124.9L621.2 1122.7L623.2 1120.4L625.1 1118.1L627.1 1115.8L629.1 1113.5L631.1 1111.2L633.0 1108.9L635.0 1106.7L637.0 1104.4L639.0 1102.2L641.0 1099.9L643.1 1097.7L645.1 1095.5L647.1 1093.3L649.2 1091.1L651.3 1089.0L653.3 1086.8L655.4 1084.7L657.6 1082.5L659.7 1080.5L661.8 1078.4L664.0 1076.3L666.2 1074.3L668.4 1072.3L670.6 1070.3L672.8 1068.3L675.1 1066.4L677.3 1064.5L679.6 1062.6L681.9 1060.7L684.3 1058.8L686.6 1057.0L688.9 1055.1L691.3 1053.3L693.6 1051.5L696.0 1049.7L698.4 1047.9L700.8 1046.1L703.2 1044.3L705.6 1042.5L708.0 1040.8L710.4 1039.0L712.8 1037.2L715.2 1035.4L717.6 1033.6L720.0 1031.9L722.4 1030.1L724.8 1028.3L727.1 1026.4L729.5 1024.6L731.9 1022.8L734.2 1020.9L736.6 1019.1L738.9 1017.2L741.3 1015.3L743.6 1013.3L745.9 1011.4L748.1 1009.4L750.4 1007.4L752.7 1005.4L754.9 1003.4L757.1 1001.3L759.3 999.3L761.5 997.2L763.7 995.1L765.9 993.0L768.1 990.9L770.3 988.8L772.4 986.7L774.6 984.6L776.8 982.5L779.0 980.3L781.2 978.2L783.3 976.2L785.5 974.1L787.7 972.0L789.9 970.0L792.2 968.0L794.4 965.9L796.6 964.0L798.9 962.0L801.2 960.1L803.5 958.2L805.8 956.3L808.1 954.5L810.5 952.7L812.9 950.9L815.3 949.2L817.7 947.6L820.2 945.9L822.7 944.4L825.2 942.8L827.8 941.4L830.3 939.9L833.0 938.5L835.6 937.2L838.3 935.9L840.9 934.7L843.7 933.5L846.4 932.3L849.1 931.2L851.9 930.1L854.7 929.0L857.5 928.0L860.3 927.0L863.2 926.0L866.0 925.1L868.9 924.2L871.8 923.4L874.6 922.5L877.5 921.7L880.4 921.0L883.4 920.2L886.3 919.5L889.2 918.8L892.1 918.1L895.1 917.4L898.0 916.8L900.9 916.2L903.9 915.6L906.8 915.0L909.8 914.4L912.7 913.9L915.7 913.4L918.6 912.8L921.6 912.3L924.5 911.9L927.5 911.4L930.4 910.9L933.4 910.5L936.3 910.0L939.3 909.6L942.3 909.2L945.2 908.8L948.2 908.4L951.2 908.0L954.1 907.6L957.1 907.3L960.1 906.9L963.1 906.6L966.0 906.2L969.0 905.9L972.0 905.5L974.9 905.2L977.9 904.8L980.9 904.5L983.9 904.2L986.8 903.8L989.8 903.5L992.8 903.2L995.8 902.8L998.8 902.5L1001.7 902.1L1004.7 901.8L1007.7 901.4L1010.6 901.1L1013.6 900.7L1016.6 900.3L1019.5 899.9L1022.5 899.5L1025.4 899.0L1028.4 898.6L1031.3 898.1L1034.2 897.6L1037.2 897.1L1040.1 896.5L1043.0 895.9L1045.9 895.3L1048.8 894.7L1051.7 894.0L1054.6 893.3L1057.4 892.5L1060.3 891.8L1063.1 890.9L1066.0 890.1L1068.8 889.2L1071.6 888.2L1074.4 887.3L1077.2 886.2L1079.9 885.2L1082.7 884.1L1085.5 883.0L1088.2 881.9L1091.0 880.8L1093.8 879.7L1096.5 878.6L1099.3 877.5L1102.0 876.4L1104.8 875.4L1107.6 874.4L1110.4 873.4L1113.2 872.5L1116.0 871.7L1118.8 870.9L1121.7 870.2L1124.6 869.6L1127.5 869.0L1130.4 868.5L1133.3 868.2L1136.3 867.9L1139.2 867.8L1142.3 867.7L1145.3 867.7L1148.3 867.8L1151.4 867.8L1154.4 867.8L1157.3 867.7L1160.3 867.4L1163.2 867.0L1166.0 866.3L1168.7 865.4L1171.4 864.2L1174.0 862.7L1176.6 861.1L1179.1 859.4L1181.6 857.6L1184.1 855.7L1186.6 854.0L1189.2 852.3L1191.8 850.8L1194.4 849.4L1197.2 848.3L1200.0 847.3L1202.8 846.4L1205.6 845.7L1208.5 845.0L1211.5 844.5L1214.5 844.1L1217.5 843.8L1220.5 843.6L1223.5 843.4L1226.6 843.2L1229.6 843.2L1232.7 843.1L1235.8 843.0L1238.8 843.0L1241.9 843.0L1245.0 842.9L1248.0 842.8L1251.1 842.7L1254.1 842.5L1257.1 842.3L1260.0 841.9L1263.0 841.5L1265.9 841.1L1268.7 840.5L1271.6 839.9L1274.4 839.2L1277.2 838.4L1280.0 837.6L1282.7 836.7L1285.4 835.7L1288.1 834.7L1290.8 833.6L1293.4 832.5L1296.1 831.3L1298.7 830.0L1301.3 828.7L1303.8 827.4L1306.4 826.0L1308.9 824.5L1311.4 823.0L1313.9 821.5L1316.4 819.9L1318.9 818.3L1321.3 816.7L1323.8 815.0L1326.2 813.3L1328.6 811.5L1331.0 809.8L1333.4 808.0L1335.8 806.1L1338.2 804.3L1340.5 802.4L1342.9 800.5L1345.3 798.6L1347.6 796.7L1349.9 794.8L1352.3 792.9L1354.6 790.9L1356.9 789.0L1359.3 787.0L1361.6 785.0L1363.9 783.1L1366.2 781.1L1368.5 779.2L1370.9 777.2L1373.2 775.3L1375.5 773.3L1377.9 771.4L1380.2 769.5L1382.5 767.6L1384.9 765.7L1387.3 763.9L1389.6 762.0L1392.0 760.2L1394.4 758.4L1396.8 756.7L1399.3 754.9L1401.7 753.2L1404.2 751.6L1406.6 750.0L1409.2 748.4L1411.7 746.8L1414.2 745.3L1416.8 743.9L1419.4 742.4L1422.0 741.1L1424.7 739.8L1427.4 738.5L1430.1 737.3L1432.8 736.1L1435.6 735.0L1438.4 734.0L1441.2 733.0L1444.0 732.0L1446.8 731.1L1449.7 730.2L1452.5 729.4L1455.4 728.7L1458.3 728.0L1461.2 727.3L1464.2 726.7L1467.1 726.2L1470.1 725.7L1473.0 725.2L1476.0 724.8L1478.9 724.5L1481.9 724.2L1484.9 723.9L1487.9 723.7L1490.8 723.6L1493.8 723.5L1496.8 723.5L1499.8 723.5L1502.7 723.5L1505.7 723.6L1508.7 723.7L1511.6 723.8L1514.6 723.9L1517.6 724.0L1520.5 724.1L1523.5 724.2L1526.5 724.2L1529.4 724.2L1532.4 724.1L1535.4 723.9L1538.3 723.7L1541.3 723.4L1544.3 722.9L1547.3 722.4L1550.2 721.8L1553.2 721.2L1556.2 720.4L1559.1 719.6L1562.0 718.7L1565.0 717.8L1567.9 716.8L1570.8 715.8L1573.6 714.8L1576.5 713.8L1579.3 712.7L1582.1 711.6L1584.9 710.5L1587.7 709.4L1590.5 708.2L1593.3 707.1L1596.0 705.9L1598.8 704.7L1601.5 703.6L1604.2 702.4L1607.0 701.2L1609.7 700.1L1612.4 698.9L1615.2 697.7L1617.9 696.6L1620.7 695.5L1623.4 694.4L1626.2 693.3L1628.9 692.2L1631.7 691.1L1634.5 690.1L1637.3 689.1L1640.1 688.1L1643.0 687.2L1645.8 686.3L1648.7 685.4L1651.6 684.6L1654.5 683.8L1657.5 683.0L1660.4 682.3L1663.4 681.7L1666.4 681.1L1669.4 680.6L1672.4 680.1L1675.4 679.7L1678.4 679.4L1681.4 679.2L1684.4 679.0L1687.4 679.0L1690.4 679.0L1693.4 679.2L1696.3 679.4L1699.3 679.8L1702.2 680.2L1705.0 680.8L1707.9 681.5L1710.7 682.3L1713.5 683.3L1716.2 684.4L1718.9 685.6L1721.5 687.0L1724.1 688.5L1726.7 690.1L1729.2 691.9L1731.6 693.8L1734.0 695.8L1736.4 697.9L1738.8 700.0L1741.2 702.2L1743.6 704.3L1745.9 706.5L1748.3 708.6L1750.7 710.6L1753.1 712.6L1755.5 714.5L1758.0 716.3L1760.5 717.9L1763.0 719.4L1765.6 720.7L1768.2 721.7L1770.8 722.6L1773.4 723.1L1776.0 723.4L1778.6 723.4L1781.2 723.0L1783.7 722.3L1786.2 721.4L1788.7 720.3L1791.2 718.9L1793.6 717.4L1796.1 715.7L1798.5 713.9L1801.0 712.0L1803.4 710.0L1805.9 708.0L1808.3 705.9L1810.8 703.9L1813.3 701.9L1815.8 700.0L1818.3 698.2L1820.8 696.4L1823.4 694.7L1825.9 693.0L1828.5 691.4L1831.0 689.8L1833.6 688.3L1836.1 686.7L1838.7 685.2L1841.2 683.6L1843.7 682.0L1846.2 680.5L1848.7 678.9L1851.2 677.2L1853.7 675.6L1856.1 673.9L1858.6 672.2L1861.0 670.5L1863.4 668.8L1865.8 667.0L1868.2 665.2L1870.6 663.4L1873.0 661.6L1875.3 659.8L1877.7 657.9L1880.0 656.1L1882.3 654.2L1884.6 652.3L1886.9 650.4L1889.2 648.4L1891.4 646.5L1893.7 644.5L1896.0 642.6L1898.2 640.6L1900.4 638.6L1902.6 636.5L1904.8 634.5L1907.0 632.5L1909.2 630.4L1911.4 628.3L1913.5 626.2L1915.7 624.2L1917.8 622.1L1919.9 619.9L1922.1 617.8L1924.2 615.7L1926.3 613.5L1928.4 611.4L1930.4 609.2L1932.5 607.1L1934.6 604.9L1936.6 602.7L1938.7 600.5L1940.7 598.3L1942.8 596.1L1944.8 593.9L1946.8 591.7L1948.8 589.5L1950.8 587.3L1952.8 585.0L1954.8 582.8L1956.8 580.6L1958.7 578.3L1960.7 576.1L1962.7 573.8L1964.6 571.5L1966.6 569.3L1968.5 567.0L1970.4 564.7L1972.4 562.4L1974.3 560.2L1976.2 557.9L1978.1 555.6L1980.0 553.3L1981.9 551.0L1983.8 548.7L1985.7 546.3L1987.6 544.0L1989.5 541.7L1991.4 539.4L1993.3 537.1L1995.2 534.8L1997.1 532.4L1998.9 530.1L2000.8 527.8L2002.7 525.4L2004.5 523.1L2006.4 520.8L2008.3 518.4L2010.1 516.1L2012.0 513.7L2013.9 511.4L2015.7 509.0L2017.6 506.7L2019.4 504.4L2021.3 502.0L2023.1 499.7L2025.0 497.3L2026.9 495.0L2028.7 492.6L2030.6 490.3L2032.4 487.9L2034.3 485.6L2036.1 483.2L2038.0 480.9L2039.9 478.6L2041.7 476.2L2043.6 473.9L2045.5 471.5L2047.3 469.2L2049.2 466.9L2051.1 464.5L2052.9 462.2L2054.8 459.9L2056.7 457.5L2058.6 455.2L2060.5 452.9L2062.4 450.6L2064.3 448.3L2066.2 445.9L2068.1 443.6L2070.0 441.3L2071.9 439.0L2073.8 436.7L2075.7 434.4L2077.6 432.1L2079.6 429.8L2081.5 427.6L2083.5 425.3L2085.4 423.0L2087.4 420.7L2089.3 418.5L2091.3 416.2L2093.3 414.0L2095.2 411.7L2097.2 409.5L2099.2 407.2L2101.2 405.0L2103.2 402.8L2105.2 400.5L2107.3 398.3L2109.3 396.1L2111.3 393.9L2113.4 391.7L2115.4 389.5L2117.5 387.4L2119.5 385.2L2121.6 383.0L2123.7 380.9L2125.8 378.7L2127.9 376.6L2130.0 374.4L2132.1 372.3L2134.2 370.2L2136.4 368.1L2138.5 365.9L2140.7 363.9L2142.8 361.8L2145.0 359.7L2147.2 357.6L2149.3 355.6L2151.5 353.5L2153.7 351.5L2155.9 349.4L2158.2 347.4L2160.4 345.4L2162.6 343.4L2164.8 341.4L2167.1 339.4L2169.4 337.4L2171.6 335.5L2173.9 333.5L2176.2 331.6L2178.5 329.6L2180.8 327.7L2183.1 325.8L2185.4 323.9L2187.7 322.0L2190.1 320.1L2192.4 318.3L2194.8 316.4L2197.1 314.6L2199.5 312.7L2201.9 310.9L2204.3 309.1L2206.7 307.3L2209.1 305.5L2211.5 303.8L2214.0 302.0L2216.4 300.3L2218.9 298.5L2221.3 296.8L2223.8 295.1L2226.3 293.4L2228.8 291.7L2231.2 290.1L2233.8 288.4L2236.3 286.8L2238.8 285.2L2241.3 283.6L2243.9 282.0L2246.4 280.4L2249.0 278.8L2251.6 277.3L2254.2 275.7L2256.8 274.2L2259.4 272.7L2262.0 271.2L2264.6 269.8L2267.3 268.3L2269.9 266.9L2272.6 265.4L2275.2 264.0L2277.9 262.6L2280.6 261.2L2283.3 259.8L2285.9 258.4L2288.6 257.0L2291.2 255.6L2293.9 254.2L2296.5 252.8L2299.1 251.3L2301.7 249.9L2304.3 248.4L2306.9 246.9L2309.4 245.4L2311.9 243.9L2314.4 242.3L2316.8 240.7L2319.2 239.0L2321.6 237.3L2323.9 235.6L2326.2 233.8L2328.5 232.0L2330.7 230.1L2332.8 228.2L2334.9 226.2L2337.0 224.2L2338.9 222.1L2340.9 219.9L2342.7 217.7L2344.5 215.4L2346.3 213.0L2347.9 210.6L2349.5 208.1L2351.1 205.5L2352.5 202.8L2353.9 200.1L2355.3 197.4L2356.6 194.6L2357.9 191.7L2359.1 188.9L2360.3 186.0L2361.4 183.1L2362.6 180.2L2363.7 177.3L2364.7 174.4L2365.8 171.6L2366.8 168.7L2367.9 165.9L2368.9 163.1L2369.9 160.3L2370.9 157.6L2371.9 155.0"/>
<path stroke="#000000" d="M312.2 1554.5L314.0 1552.1L315.8 1549.7L317.5 1547.3L319.3 1544.8L320.9 1542.3L322.5 1539.8L324.1 1537.3L325.7 1534.7L327.2 1532.1L328.7 1529.5L330.1 1526.9L331.5 1524.3L332.9 1521.6L334.3 1519.0L335.7 1516.3L337.0 1513.6L338.3 1510.9L339.6 1508.1L340.9 1505.4L342.1 1502.7L343.4 1499.9L344.6 1497.2L345.8 1494.4L347.1 1491.6L348.3 1488.9L349.5 1486.1L350.8 1483.3L352.0 1480.6L353.2 1477.8L354.4 1475.0L355.7 1472.3L356.9 1469.5L358.2 1466.8L359.5 1464.1L360.8 1461.3L362.1 1458.6L363.4 1455.9L364.8 1453.3L366.2 1450.6L367.6 1447.9L369.0 1445.3L370.4 1442.7L371.9 1440.1L373.5 1437.5L375.0 1435.0L376.6 1432.4L378.2 1429.9L379.8 1427.4L381.5 1424.9L383.2 1422.4L384.9 1420.0L386.6 1417.5L388.3 1415.1L390.1 1412.7L391.9 1410.3L393.7 1407.9L395.5 1405.5L397.3 1403.1L399.2 1400.8L401.0 1398.4L402.9 1396.1L404.8 1393.7L406.7 1391.4L408.6 1389.0L410.5 1386.7L412.4 1384.4L414.3 1382.1L416.2 1379.7L418.1 1377.4L420.0 1375.1L421.9 1372.8L423.8 1370.4L425.7 1368.1L427.6 1365.8L429.5 1363.5L431.4 1361.1L433.3 1358.8L435.2 1356.4L437.0 1354.1L438.9 1351.7L440.7 1349.3L442.5 1346.9L444.3 1344.6L446.1 1342.2L447.9 1339.7L449.7 1337.3L451.4 1334.9L453.1 1332.4L454.9 1330.0L456.6 1327.5L458.3 1325.1L459.9 1322.6L461.6 1320.1L463.2 1317.6L464.9 1315.1L466.5 1312.6L468.1 1310.1L469.7 1307.6L471.3 1305.0L472.9 1302.5L474.5 1300.0L476.0 1297.4L477.6 1294.9L479.1 1292.3L480.7 1289.7L482.2 1287.2L483.7 1284.6L485.2 1282.0L486.7 1279.4L488.2 1276.8L489.7 1274.2L491.2 1271.6L492.7 1269.0L494.1 1266.4L495.6 1263.8L497.1 1261.2L498.5 1258.6L500.0 1255.9L501.4 1253.3L502.8 1250.7L504.3 1248.0L505.7 1245.4L507.1 1242.8L508.6 1240.1L510.0 1237.5L511.4 1234.9L512.8 1232.2L514.2 1229.6L515.7 1227.0L517.1 1224.3L518.5 1221.7L519.9 1219.0L521.3 1216.4L522.7 1213.7L524.2 1211.1L525.6 1208.5L527.0 1205.8L528.4 1203.2L529.9 1200.6L531.3 1197.9L532.7 1195.3L534.1 1192.7L535.6 1190.0L537.0 1187.4L538.5 1184.8L539.9 1182.2L541.4 1179.6L542.8 1176.9L544.3 1174.3L545.7 1171.7L547.2 1169.1L548.7 1166.5L550.1 1163.9L551.6 1161.3L553.1 1158.7L554.6 1156.1L556.1 1153.5L557.6 1151.0L559.1 1148.4L560.6 1145.8L562.1 1143.2L563.6 1140.6L565.1 1138.1L566.6 1135.5L568.1 1132.9L569.7 1130.4L571.2 1127.8L572.7 1125.2L574.3 1122.7L575.8 1120.1L577.4 1117.6L578.9 1115.0L580.5 1112.5L582.1 1109.9L583.7 1107.4L585.2 1104.8L586.8 1102.3L588.4 1099.8L590.0 1097.3L591.6 1094.7L593.2 1092.2L594.8 1089.7L596.4 1087.2L598.0 1084.7L599.7 1082.1L601.3 1079.6L602.9 1077.1L604.6 1074.6L606.2 1072.1L607.9 1069.6L609.5 1067.1L611.2 1064.7L612.8 1062.2L614.5 1059.7L616.2 1057.2L617.9 1054.7L619.6 1052.3L621.3 1049.8L623.0 1047.3L624.7 1044.9L626.4 1042.4L628.1 1039.9L629.8 1037.5L631.6 1035.0L633.3 1032.6L635.1 1030.1L636.8 1027.7L638.6 1025.3L640.4 1022.8L642.1 1020.4L643.9 1018.0L645.7 1015.6L647.5 1013.1L649.3 1010.7L651.1 1008.3L652.9 1005.9L654.7 1003.5L656.5 1001.1L658.4 998.7L660.2 996.3L662.1 993.9L663.9 991.5L665.8 989.1L667.7 986.8L669.5 984.4L671.4 982.0L673.4 979.7L675.3 977.4L677.2 975.1L679.2 972.8L681.1 970.5L683.1 968.2L685.1 966.0L687.2 963.8L689.2 961.6L691.3 959.4L693.4 957.3L695.5 955.2L697.6 953.1L699.8 951.1L702.0 949.0L704.2 947.1L706.5 945.1L708.7 943.2L711.0 941.3L713.4 939.5L715.7 937.7L718.1 935.9L720.6 934.2L723.1 932.6L725.6 931.0L728.1 929.4L730.7 927.9L733.3 926.4L736.0 925.0L738.6 923.7L741.4 922.5L744.1 921.5L746.9 920.7L749.7 920.2L752.5 920.0L755.3 920.1L758.1 920.5L760.9 921.1L763.7 922.0L766.5 923.0L769.3 924.3L772.2 925.6L775.0 927.1L777.8 928.5L780.6 929.8L783.5 931.1L786.3 932.1L789.2 932.9L792.0 933.5L794.8 933.9L797.5 933.9L800.3 933.6L802.9 933.0L805.5 932.1L808.0 931.0L810.5 929.6L812.8 928.0L815.1 926.2L817.3 924.3L819.4 922.2L821.5 920.0L823.6 917.7L825.6 915.3L827.6 912.8L829.6 910.3L831.6 907.8L833.7 905.3L835.7 902.9L837.8 900.5L839.9 898.1L842.1 895.9L844.4 893.8L846.7 891.9L849.1 890.1L851.6 888.4L854.1 886.8L856.6 885.3L859.3 883.9L861.9 882.6L864.6 881.4L867.4 880.2L870.1 879.2L872.9 878.2L875.7 877.3L878.5 876.4L881.4 875.6L884.2 874.8L887.1 874.0L889.9 873.4L892.8 872.7L895.7 872.1L898.6 871.6L901.5 871.1L904.5 870.7L907.4 870.3L910.4 870.0L913.3 869.7L916.3 869.5L919.3 869.4L922.3 869.3L925.3 869.2L928.4 869.2L931.4 869.3L934.5 869.4L937.6 869.6L940.7 869.8L943.7 870.0L946.8 870.3L949.9 870.5L953.0 870.8L956.1 871.0L959.2 871.3L962.2 871.5L965.3 871.7L968.4 871.8L971.4 871.9L974.4 872.0L977.4 872.0L980.4 871.9L983.3 871.8L986.2 871.6L989.1 871.3L992.0 870.9L994.8 870.4L997.6 869.8L1000.4 869.0L1003.1 868.2L1005.8 867.2L1008.4 866.1L1011.0 864.8L1013.6 863.5L1016.1 862.0L1018.7 860.5L1021.2 858.9L1023.6 857.2L1026.1 855.5L1028.6 853.7L1031.0 851.9L1033.5 850.0L1035.9 848.2L1038.4 846.3L1040.9 844.5L1043.4 842.7L1045.9 840.9L1048.5 839.1L1051.1 837.4L1053.7 835.8L1056.3 834.2L1059.0 832.7L1061.6 831.2L1064.4 829.9L1067.1 828.6L1069.9 827.4L1072.6 826.2L1075.4 825.2L1078.3 824.2L1081.1 823.3L1083.9 822.5L1086.8 821.8L1089.7 821.2L1092.5 820.7L1095.4 820.3L1098.3 820.0L1101.2 819.8L1104.1 819.7L1107.0 819.7L1109.9 819.9L1112.8 820.1L1115.7 820.5L1118.7 821.0L1121.5 821.7L1124.4 822.4L1127.3 823.3L1130.2 824.3L1133.1 825.4L1135.9 826.4L1138.8 827.5L1141.7 828.6L1144.5 829.6L1147.4 830.5L1150.3 831.3L1153.1 831.9L1156.0 832.4L1158.9 832.7L1161.7 832.7L1164.6 832.6L1167.5 832.2L1170.4 831.7L1173.3 831.1L1176.1 830.4L1179.0 829.5L1181.9 828.6L1184.7 827.6L1187.6 826.5L1190.4 825.4L1193.3 824.3L1196.1 823.1L1199.0 822.0L1201.8 820.9L1204.7 819.8L1207.6 818.8L1210.5 817.8L1213.3 816.9L1216.2 816.1L1219.2 815.4L1222.1 814.8L1225.0 814.4L1228.0 814.1L1230.9 813.9L1233.9 813.8L1236.9 813.9L1239.8 814.0L1242.8 814.3L1245.8 814.6L1248.8 815.1L1251.7 815.7L1254.7 816.4L1257.6 817.1L1260.6 818.0L1263.5 819.0L1266.4 820.0L1269.3 821.1L1272.2 822.3L1275.0 823.5L1277.9 824.7L1280.7 825.9L1283.6 827.1L1286.4 828.2L1289.2 829.2L1292.0 830.2L1294.9 831.0L1297.7 831.7L1300.5 832.2L1303.3 832.5L1306.2 832.6L1309.0 832.5L1311.8 832.2L1314.7 831.6L1317.5 830.8L1320.3 829.8L1323.1 828.8L1325.9 827.6L1328.7 826.3L1331.4 825.0L1334.1 823.6L1336.7 822.2L1339.3 820.8L1341.9 819.3L1344.5 817.7L1347.0 816.1L1349.5 814.5L1352.0 812.8L1354.5 811.1L1356.9 809.4L1359.3 807.6L1361.6 805.8L1364.0 804.0L1366.3 802.2L1368.6 800.3L1370.9 798.3L1373.2 796.4L1375.4 794.4L1377.7 792.4L1379.9 790.4L1382.1 788.4L1384.3 786.3L1386.5 784.3L1388.6 782.2L1390.8 780.1L1392.9 778.0L1395.1 775.8L1397.2 773.7L1399.3 771.5L1401.4 769.4L1403.5 767.2L1405.6 765.0L1407.7 762.9L1409.8 760.7L1411.9 758.5L1414.0 756.3L1416.0 754.1L1418.1 751.9L1420.2 749.8L1422.3 747.6L1424.4 745.4L1426.5 743.3L1428.6 741.1L1430.7 739.0L1432.8 736.8L1434.9 734.7L1437.1 732.6L1439.2 730.5L1441.3 728.4L1443.5 726.3L1445.6 724.2L1447.8 722.1L1450.0 720.1L1452.2 718.0L1454.4 716.0L1456.6 714.0L1458.8 712.0L1461.0 710.0L1463.3 708.0L1465.5 706.1L1467.8 704.1L1470.1 702.2L1472.4 700.3L1474.7 698.4L1477.0 696.6L1479.4 694.7L1481.7 692.9L1484.1 691.1L1486.5 689.3L1488.9 687.5L1491.4 685.8L1493.8 684.1L1496.3 682.4L1498.8 680.7L1501.3 679.0L1503.8 677.4L1506.4 675.8L1509.0 674.2L1511.6 672.6L1514.2 671.1L1516.9 669.6L1519.5 668.2L1522.2 666.7L1524.9 665.3L1527.7 664.0L1530.4 662.7L1533.2 661.4L1535.9 660.2L1538.7 659.1L1541.5 658.0L1544.3 656.9L1547.1 656.0L1549.9 655.0L1552.8 654.2L1555.6 653.4L1558.4 652.8L1561.3 652.1L1564.1 651.6L1567.0 651.2L1569.8 650.8L1572.7 650.5L1575.5 650.4L1578.4 650.3L1581.2 650.3L1584.0 650.4L1586.8 650.7L1589.7 651.0L1592.5 651.5L1595.3 652.0L1598.0 652.7L1600.8 653.5L1603.6 654.4L1606.3 655.4L1609.1 656.4L1611.8 657.6L1614.5 658.8L1617.2 660.1L1619.9 661.5L1622.6 663.0L1625.3 664.5L1627.9 666.1L1630.6 667.7L1633.2 669.4L1635.8 671.1L1638.4 672.8L1641.0 674.6L1643.6 676.4L1646.2 678.3L1648.8 680.1L1651.3 682.0L1653.9 683.8L1656.4 685.7L1658.9 687.5L1661.4 689.4L1663.9 691.2L1666.4 693.1L1668.8 694.9L1671.3 696.7L1673.7 698.5L1676.2 700.2L1678.6 702.0L1681.0 703.8L1683.5 705.5L1685.9 707.2L1688.3 708.9L1690.8 710.6L1693.2 712.2L1695.7 713.9L1698.1 715.5L1700.6 717.1L1703.0 718.7L1705.5 720.3L1708.0 721.9L1710.5 723.4L1713.0 724.9L1715.5 726.4L1718.0 727.9L1720.6 729.3L1723.2 730.8L1725.8 732.2L1728.4 733.6L1731.0 734.9L1733.7 736.3L1736.4 737.6L1739.1 738.9L1741.8 740.2L1744.6 741.4L1747.4 742.6L1750.2 743.8L1753.1 744.9L1755.9 746.0L1758.7 746.9L1761.6 747.7L1764.4 748.3L1767.1 748.7L1769.8 748.8L1772.4 748.7L1774.9 748.3L1777.3 747.5L1779.6 746.3L1781.8 744.8L1783.9 742.9L1785.8 740.7L1787.7 738.3L1789.5 735.7L1791.2 733.0L1792.9 730.2L1794.6 727.4L1796.3 724.7L1797.9 721.9L1799.5 719.2L1801.1 716.5L1802.7 713.8L1804.3 711.1L1805.9 708.4L1807.4 705.8L1809.0 703.1L1810.5 700.5L1812.0 697.8L1813.6 695.2L1815.1 692.6L1816.6 690.0L1818.1 687.4L1819.7 684.8L1821.2 682.3L1822.7 679.7L1824.2 677.2L1825.8 674.7L1827.3 672.1L1828.9 669.6L1830.5 667.2L1832.1 664.7L1833.7 662.2L1835.3 659.7L1836.9 657.3L1838.6 654.9L1840.2 652.4L1841.9 650.0L1843.6 647.6L1845.4 645.2L1847.2 642.9L1849.0 640.5L1850.8 638.1L1852.6 635.8L1854.5 633.4L1856.4 631.1L1858.4 628.8L1860.3 626.5L1862.3 624.2L1864.2 621.9L1866.2 619.6L1868.2 617.3L1870.2 615.0L1872.2 612.7L1874.2 610.4L1876.3 608.1L1878.3 605.7L1880.3 603.4L1882.2 601.1L1884.2 598.8L1886.2 596.5L1888.1 594.1L1890.0 591.8L1891.9 589.4L1893.8 587.0L1895.7 584.7L1897.5 582.3L1899.3 579.8L1901.0 577.4L1902.8 575.0L1904.4 572.5L1906.1 570.0L1907.7 567.6L1909.3 565.0L1910.9 562.5L1912.4 560.0L1913.9 557.5L1915.4 554.9L1916.8 552.3L1918.3 549.7L1919.7 547.1L1921.0 544.5L1922.4 541.9L1923.7 539.3L1925.0 536.6L1926.3 534.0L1927.5 531.3L1928.8 528.6L1930.0 526.0L1931.2 523.3L1932.4 520.6L1933.5 517.9L1934.7 515.1L1935.8 512.4L1936.9 509.7L1938.0 506.9L1939.1 504.2L1940.2 501.4L1941.3 498.6L1942.3 495.8L1943.3 493.1L1944.4 490.3L1945.4 487.5L1946.4 484.7L1947.4 481.9L1948.4 479.1L1949.4 476.2L1950.3 473.4L1951.3 470.6L1952.3 467.8L1953.2 464.9L1954.2 462.1L1955.2 459.3L1956.1 456.4L1957.1 453.6L1958.0 450.7L1959.0 447.9L1959.9 445.0L1960.9 442.2L1961.9 439.3L1962.8 436.5L1963.8 433.6L1964.8 430.8L1965.8 427.9L1966.7 425.1L1967.7 422.2L1968.7 419.4L1969.7 416.5L1970.8 413.7L1971.8 410.8L1972.8 408.0L1973.9 405.1L1974.9 402.3L1976.0 399.5L1977.1 396.6L1978.2 393.8L1979.3 391.0L1980.4 388.2L1981.6 385.3L1982.8 382.5L1983.9 379.7L1985.1 376.9L1986.4 374.1L1987.6 371.3L1988.9 368.6L1990.1 365.8L1991.4 363.1L1992.8 360.3L1994.1 357.6L1995.5 354.9L1996.9 352.2L1998.3 349.5L1999.7 346.9L2001.2 344.2L2002.7 341.6L2004.2 339.0L2005.8 336.5L2007.4 333.9L2009.0 331.4L2010.6 328.9L2012.3 326.4L2014.0 323.9L2015.7 321.5L2017.5 319.1L2019.2 316.8L2021.1 314.4L2022.9 312.1L2024.8 309.8L2026.8 307.6L2028.7 305.4L2030.7 303.2L2032.8 301.1L2034.9 299.0L2037.0 296.9L2039.1 294.9L2041.3 292.9L2043.6 291.0L2045.8 289.1L2048.1 287.2L2050.5 285.4L2052.9 283.6L2055.3 281.9L2057.7 280.1L2060.1 278.4L2062.5 276.6L2065.0 274.9L2067.4 273.2L2069.8 271.4L2072.2 269.7L2074.6 267.9L2076.9 266.1L2079.2 264.2L2081.5 262.3L2083.7 260.4L2085.9 258.4L2088.0 256.4L2090.1 254.4L2092.1 252.3L2094.1 250.1L2096.1 248.0L2098.0 245.8L2100.0 243.5L2101.8 241.3L2103.7 239.0L2105.5 236.6L2107.3 234.3L2109.1 231.9L2110.9 229.5L2112.6 227.1L2114.4 224.7L2116.1 222.3L2117.8 219.8L2119.5 217.4L2121.3 214.9L2123.0 212.5L2124.7 210.0L2126.4 207.5L2128.1 205.0L2129.9 202.5L2131.6 200.1L2133.3 197.6L2135.1 195.1L2136.9 192.7L2138.7 190.2L2140.5 187.8L2142.3 185.4L2144.1 183.0L2146.0 180.6L2147.9 178.2L2149.7 175.8L2151.6 173.5L2153.6 171.1L2155.5 168.8L2157.5 166.5L2159.4 164.3L2161.4 162.0L2163.5 159.8L2165.5 157.6L2167.6 155.4L2169.7 153.3L2171.8 151.1L2173.9 149.1L2176.1 147.0L2178.2 145.0L2180.5 143.0L2182.7 141.0L2184.9 139.1L2187.2 137.2L2189.5 135.4L2191.9 133.5L2194.3 131.8L2196.7 130.0L2199.1 128.4L2201.6 126.7L2204.0 125.1L2206.6 123.5L2209.1 122.0L2211.7 120.5L2214.3 119.1L2216.9 117.7L2219.5 116.4L2222.2 115.0L2224.9 113.8L2227.6 112.5L2230.3 111.3L2233.1 110.2L2235.9 109.0L2238.7 108.0L2241.5 106.9L2244.3 105.9L2247.1 104.9L2250.0 104.0L2252.9 103.1L2255.8 102.2L2258.7 101.4L2261.6 100.6L2264.5 99.9L2267.5 99.1L2270.4 98.4L2273.4 97.8L2276.3 97.2L2279.3 96.6L2282.3 96.0L2285.3 95.5L2288.3 95.0L2291.3 94.6L2294.3 94.2L2297.3 93.8L2300.3 93.4L2303.3 93.1L2306.4 92.8L2309.4 92.5L2312.4 92.3L2315.4 92.1L2318.4 91.9L2321.5 91.8L2324.5 91.7L2327.5 91.6L2330.5 91.5L2333.5 91.5L2336.5 91.5L2339.5 91.5L2342.4 91.6L2345.4 91.6L2348.4 91.7L2351.3 91.9L2354.3 92.0L2357.2 92.2L2360.1 92.4L2363.0 92.7L2365.9 92.9L2368.8 93.2L2371.6 93.5"/>
<path stroke="#00C800" d="M314.1 1889.8L316.7 1888.1L319.3 1886.4L321.9 1884.6L324.5 1882.8L327.0 1881.0L329.5 1879.1L331.9 1877.3L334.3 1875.4L336.7 1873.5L339.0 1871.5L341.3 1869.6L343.6 1867.6L345.8 1865.6L348.1 1863.5L350.2 1861.5L352.4 1859.4L354.5 1857.3L356.6 1855.2L358.7 1853.1L360.7 1850.9L362.7 1848.7L364.7 1846.5L366.6 1844.3L368.6 1842.1L370.5 1839.8L372.3 1837.5L374.2 1835.2L376.0 1832.9L377.8 1830.6L379.6 1828.2L381.3 1825.9L383.0 1823.5L384.7 1821.1L386.4 1818.6L388.0 1816.2L389.7 1813.8L391.3 1811.3L392.9 1808.8L394.4 1806.3L396.0 1803.8L397.5 1801.3L399.0 1798.7L400.5 1796.2L402.0 1793.6L403.4 1791.0L404.8 1788.4L406.3 1785.8L407.7 1783.2L409.0 1780.6L410.4 1778.0L411.7 1775.3L413.1 1772.6L414.4 1770.0L415.7 1767.3L417.0 1764.6L418.3 1761.9L419.5 1759.2L420.8 1756.5L422.0 1753.7L423.2 1751.0L424.4 1748.2L425.6 1745.5L426.8 1742.7L428.0 1739.9L429.2 1737.2L430.3 1734.4L431.5 1731.6L432.6 1728.8L433.7 1726.0L434.9 1723.2L436.0 1720.4L437.1 1717.6L438.2 1714.7L439.3 1711.9L440.4 1709.1L441.5 1706.3L442.5 1703.4L443.6 1700.6L444.7 1697.7L445.7 1694.9L446.8 1692.1L447.9 1689.2L448.9 1686.4L450.0 1683.5L451.0 1680.7L452.1 1677.8L453.1 1675.0L454.2 1672.1L455.2 1669.3L456.3 1666.4L457.3 1663.6L458.4 1660.7L459.4 1657.9L460.5 1655.0L461.5 1652.2L462.6 1649.3L463.7 1646.5L464.7 1643.7L465.8 1640.8L466.9 1638.0L467.9 1635.2L469.0 1632.4L470.1 1629.6L471.2 1626.7L472.3 1623.9L473.4 1621.1L474.5 1618.3L475.6 1615.5L476.7 1612.7L477.8 1609.9L478.9 1607.2L480.0 1604.4L481.2 1601.6L482.3 1598.8L483.4 1596.0L484.5 1593.2L485.7 1590.5L486.8 1587.7L487.9 1584.9L489.1 1582.1L490.2 1579.4L491.3 1576.6L492.5 1573.9L493.6 1571.1L494.8 1568.3L495.9 1565.6L497.1 1562.8L498.2 1560.1L499.4 1557.3L500.5 1554.6L501.7 1551.8L502.8 1549.1L504.0 1546.3L505.1 1543.6L506.3 1540.8L507.4 1538.1L508.6 1535.3L509.7 1532.6L510.9 1529.8L512.0 1527.1L513.2 1524.3L514.3 1521.6L515.5 1518.8L516.7 1516.1L517.8 1513.3L519.0 1510.6L520.1 1507.9L521.3 1505.1L522.4 1502.4L523.6 1499.6L524.7 1496.9L525.9 1494.1L527.0 1491.4L528.1 1488.6L529.3 1485.9L530.4 1483.1L531.6 1480.4L532.7 1477.6L533.8 1474.9L535.0 1472.1L536.1 1469.3L537.2 1466.6L538.3 1463.8L539.5 1461.1L540.6 1458.3L541.7 1455.5L542.8 1452.8L543.9 1450.0L545.0 1447.2L546.1 1444.5L547.2 1441.7L548.3 1438.9L549.4 1436.1L550.5 1433.3L551.6 1430.6L552.7 1427.8L553.7 1425.0L554.8 1422.2L555.9 1419.4L557.0 1416.6L558.0 1413.8L559.1 1411.0L560.1 1408.2L561.2 1405.4L562.2 1402.5L563.2 1399.7L564.3 1396.9L565.3 1394.1L566.3 1391.2L567.4 1388.4L568.4 1385.6L569.4 1382.7L570.4 1379.9L571.4 1377.1L572.4 1374.2L573.4 1371.4L574.4 1368.5L575.4 1365.7L576.4 1362.8L577.4 1360.0L578.4 1357.1L579.4 1354.3L580.4 1351.4L581.4 1348.6L582.3 1345.7L583.3 1342.9L584.3 1340.0L585.3 1337.2L586.3 1334.3L587.3 1331.5L588.3 1328.6L589.3 1325.7L590.3 1322.9L591.3 1320.0L592.3 1317.2L593.3 1314.3L594.3 1311.5L595.3 1308.6L596.3 1305.8L597.3 1303.0L598.3 1300.1L599.3 1297.3L600.3 1294.4L601.3 1291.6L602.4 1288.8L603.4 1285.9L604.4 1283.1L605.4 1280.3L606.5 1277.5L607.5 1274.6L608.6 1271.8L609.6 1269.0L610.7 1266.2L611.8 1263.4L612.8 1260.6L613.9 1257.8L615.0 1255.0L616.1 1252.2L617.2 1249.4L618.3 1246.7L619.4 1243.9L620.5 1241.1L621.7 1238.4L622.8 1235.6L624.0 1232.9L625.2 1230.1L626.4 1227.4L627.6 1224.7L628.8 1222.0L630.0 1219.2L631.3 1216.6L632.6 1213.9L633.9 1211.2L635.2 1208.5L636.5 1205.9L637.9 1203.2L639.3 1200.6L640.8 1198.0L642.2 1195.4L643.7 1192.8L645.2 1190.3L646.8 1187.7L648.3 1185.2L649.9 1182.6L651.5 1180.1L653.2 1177.6L654.8 1175.1L656.5 1172.7L658.3 1170.2L660.0 1167.8L661.8 1165.4L663.5 1162.9L665.3 1160.6L667.2 1158.2L669.0 1155.8L670.9 1153.5L672.8 1151.2L674.7 1148.8L676.7 1146.5L678.6 1144.3L680.6 1142.0L682.6 1139.8L684.7 1137.5L686.7 1135.3L688.8 1133.1L690.9 1131.0L693.0 1128.8L695.1 1126.7L697.2 1124.6L699.4 1122.5L701.6 1120.4L703.7 1118.3L706.0 1116.3L708.2 1114.2L710.4 1112.2L712.7 1110.2L715.0 1108.3L717.3 1106.3L719.6 1104.4L721.9 1102.5L724.2 1100.6L726.6 1098.7L729.0 1096.9L731.4 1095.1L733.8 1093.3L736.2 1091.5L738.6 1089.7L741.0 1088.0L743.5 1086.2L745.9 1084.5L748.4 1082.9L750.9 1081.2L753.4 1079.6L755.9 1077.9L758.4 1076.3L761.0 1074.8L763.5 1073.2L766.1 1071.7L768.6 1070.2L771.2 1068.7L773.8 1067.2L776.4 1065.7L779.0 1064.3L781.6 1062.8L784.2 1061.4L786.9 1060.0L789.5 1058.6L792.2 1057.3L794.8 1055.9L797.5 1054.6L800.2 1053.3L802.8 1052.0L805.5 1050.7L808.2 1049.4L810.9 1048.1L813.6 1046.8L816.3 1045.6L819.1 1044.4L821.8 1043.1L824.5 1041.9L827.3 1040.7L830.0 1039.5L832.8 1038.3L835.5 1037.2L838.3 1036.0L841.0 1034.8L843.8 1033.7L846.6 1032.5L849.3 1031.4L852.1 1030.3L854.9 1029.1L857.7 1028.0L860.5 1026.9L863.3 1025.8L866.1 1024.7L868.9 1023.6L871.6 1022.5L874.4 1021.4L877.2 1020.3L880.0 1019.2L882.8 1018.1L885.6 1017.0L888.5 1016.0L891.3 1014.9L894.1 1013.8L896.9 1012.7L899.7 1011.6L902.5 1010.6L905.3 1009.5L908.1 1008.4L910.9 1007.3L913.7 1006.2L916.5 1005.2L919.3 1004.1L922.1 1003.0L924.9 1001.9L927.7 1000.9L930.5 999.8L933.3 998.7L936.1 997.7L938.9 996.6L941.8 995.6L944.6 994.5L947.4 993.5L950.2 992.4L953.0 991.4L955.8 990.3L958.6 989.3L961.5 988.3L964.3 987.3L967.1 986.2L969.9 985.2L972.7 984.2L975.6 983.2L978.4 982.2L981.2 981.2L984.0 980.2L986.9 979.2L989.7 978.3L992.5 977.3L995.4 976.3L998.2 975.4L1001.0 974.4L1003.9 973.5L1006.7 972.5L1009.6 971.6L1012.4 970.7L1015.3 969.8L1018.1 968.9L1021.0 968.0L1023.8 967.1L1026.7 966.2L1029.6 965.3L1032.4 964.5L1035.3 963.6L1038.2 962.8L1041.0 961.9L1043.9 961.1L1046.8 960.3L1049.7 959.5L1052.6 958.7L1055.4 957.9L1058.3 957.1L1061.2 956.4L1064.1 955.6L1067.0 954.9L1069.9 954.1L1072.8 953.4L1075.7 952.7L1078.6 951.9L1081.5 951.2L1084.4 950.5L1087.4 949.8L1090.3 949.1L1093.2 948.4L1096.1 947.7L1099.0 947.1L1101.9 946.4L1104.9 945.7L1107.8 945.0L1110.7 944.4L1113.6 943.7L1116.5 943.0L1119.5 942.4L1122.4 941.7L1125.3 941.0L1128.2 940.4L1131.2 939.7L1134.1 939.0L1137.0 938.4L1139.9 937.7L1142.9 937.0L1145.8 936.4L1148.7 935.7L1151.6 935.0L1154.6 934.4L1157.5 933.7L1160.4 933.0L1163.3 932.3L1166.2 931.6L1169.2 930.9L1172.1 930.2L1175.0 929.5L1177.9 928.8L1180.8 928.1L1183.7 927.4L1186.6 926.6L1189.5 925.9L1192.4 925.1L1195.4 924.4L1198.3 923.6L1201.2 922.8L1204.0 922.1L1206.9 921.3L1209.8 920.5L1212.7 919.7L1215.6 918.8L1218.5 918.0L1221.4 917.2L1224.2 916.3L1227.1 915.5L1230.0 914.6L1232.8 913.7L1235.7 912.8L1238.6 911.9L1241.4 911.0L1244.3 910.1L1247.1 909.1L1250.0 908.2L1252.8 907.2L1255.6 906.3L1258.5 905.3L1261.3 904.3L1264.1 903.3L1266.9 902.3L1269.7 901.3L1272.5 900.2L1275.3 899.2L1278.1 898.1L1280.9 897.1L1283.7 896.0L1286.5 894.9L1289.3 893.8L1292.0 892.7L1294.8 891.5L1297.6 890.4L1300.3 889.2L1303.1 888.1L1305.8 886.9L1308.5 885.7L1311.3 884.5L1314.0 883.2L1316.7 882.0L1319.4 880.8L1322.1 879.5L1324.8 878.2L1327.5 876.9L1330.2 875.6L1332.8 874.3L1335.5 873.0L1338.1 871.6L1340.8 870.3L1343.4 868.9L1346.1 867.5L1348.7 866.1L1351.3 864.7L1353.9 863.2L1356.5 861.8L1359.1 860.3L1361.7 858.8L1364.3 857.3L1366.9 855.8L1369.4 854.3L1372.0 852.7L1374.5 851.2L1377.1 849.6L1379.6 848.0L1382.1 846.4L1384.6 844.8L1387.1 843.2L1389.6 841.5L1392.1 839.9L1394.6 838.2L1397.1 836.5L1399.5 834.8L1402.0 833.1L1404.4 831.4L1406.9 829.7L1409.3 827.9L1411.8 826.2L1414.2 824.4L1416.6 822.7L1419.1 820.9L1421.5 819.1L1423.9 817.3L1426.3 815.5L1428.7 813.7L1431.1 811.9L1433.5 810.0L1435.9 808.2L1438.3 806.4L1440.7 804.5L1443.0 802.7L1445.4 800.8L1447.8 799.0L1450.2 797.1L1452.5 795.2L1454.9 793.3L1457.3 791.5L1459.6 789.6L1462.0 787.7L1464.3 785.8L1466.7 783.9L1469.0 782.0L1471.4 780.1L1473.7 778.2L1476.1 776.3L1478.4 774.4L1480.8 772.5L1483.1 770.6L1485.5 768.7L1487.8 766.8L1490.2 764.9L1492.5 763.0L1494.9 761.1L1497.3 759.3L1499.6 757.4L1502.0 755.5L1504.3 753.6L1506.7 751.7L1509.0 749.8L1511.4 748.0L1513.8 746.1L1516.1 744.2L1518.5 742.4L1520.9 740.5L1523.2 738.7L1525.6 736.8L1528.0 735.0L1530.4 733.2L1532.8 731.4L1535.2 729.6L1537.6 727.8L1540.0 726.1L1542.5 724.3L1544.9 722.6L1547.4 720.9L1549.8 719.3L1552.3 717.6L1554.8 716.0L1557.3 714.3L1559.8 712.8L1562.3 711.2L1564.8 709.7L1567.4 708.1L1569.9 706.7L1572.5 705.2L1575.1 703.8L1577.7 702.4L1580.4 701.1L1583.0 699.7L1585.7 698.5L1588.3 697.2L1591.0 696.0L1593.8 694.8L1596.5 693.7L1599.3 692.6L1602.1 691.5L1604.9 690.5L1607.7 689.6L1610.5 688.6L1613.4 687.7L1616.3 686.8L1619.1 686.0L1622.0 685.1L1624.9 684.3L1627.8 683.4L1630.7 682.6L1633.6 681.8L1636.5 681.0L1639.4 680.1L1642.3 679.3L1645.2 678.4L1648.0 677.5L1650.9 676.6L1653.7 675.7L1656.5 674.7L1659.3 673.7L1662.1 672.7L1664.9 671.6L1667.7 670.5L1670.4 669.4L1673.1 668.3L1675.9 667.1L1678.6 665.9L1681.3 664.7L1683.9 663.4L1686.6 662.2L1689.3 660.9L1691.9 659.6L1694.5 658.2L1697.2 656.9L1699.8 655.5L1702.4 654.1L1705.0 652.7L1707.6 651.2L1710.2 649.8L1712.7 648.3L1715.3 646.8L1717.9 645.3L1720.4 643.8L1723.0 642.2L1725.5 640.7L1728.1 639.1L1730.6 637.6L1733.2 636.0L1735.7 634.4L1738.2 632.8L1740.8 631.1L1743.3 629.5L1745.8 627.9L1748.3 626.2L1750.9 624.6L1753.4 622.9L1755.9 621.2L1758.4 619.5L1760.9 617.8L1763.4 616.1L1765.9 614.4L1768.4 612.6L1770.8 610.9L1773.3 609.1L1775.7 607.4L1778.2 605.6L1780.6 603.8L1783.0 602.0L1785.5 600.1L1787.8 598.3L1790.2 596.5L1792.6 594.6L1795.0 592.7L1797.3 590.8L1799.6 588.9L1801.9 587.0L1804.2 585.1L1806.5 583.1L1808.8 581.1L1811.0 579.2L1813.3 577.2L1815.5 575.2L1817.7 573.1L1819.9 571.1L1822.1 569.1L1824.2 567.0L1826.4 564.9L1828.5 562.8L1830.6 560.7L1832.8 558.6L1834.9 556.5L1836.9 554.4L1839.0 552.3L1841.1 550.1L1843.1 548.0L1845.2 545.8L1847.2 543.6L1849.3 541.4L1851.3 539.2L1853.3 537.0L1855.3 534.8L1857.3 532.6L1859.2 530.3L1861.2 528.1L1863.2 525.9L1865.1 523.6L1867.1 521.3L1869.0 519.1L1871.0 516.8L1872.9 514.5L1874.8 512.2L1876.7 509.9L1878.6 507.6L1880.5 505.3L1882.4 503.0L1884.3 500.7L1886.2 498.4L1888.1 496.1L1890.0 493.7L1891.8 491.4L1893.7 489.1L1895.6 486.7L1897.4 484.4L1899.3 482.1L1901.2 479.7L1903.0 477.4L1904.9 475.0L1906.7 472.6L1908.6 470.3L1910.4 467.9L1912.3 465.6L1914.1 463.2L1916.0 460.9L1917.8 458.5L1919.7 456.1L1921.5 453.8L1923.4 451.4L1925.2 449.1L1927.1 446.7L1928.9 444.3L1930.8 442.0L1932.6 439.6L1934.5 437.3L1936.3 434.9L1938.2 432.6L1940.0 430.2L1941.9 427.9L1943.8 425.5L1945.6 423.2L1947.5 420.8L1949.4 418.5L1951.2 416.1L1953.1 413.8L1955.0 411.4L1956.8 409.1L1958.7 406.7L1960.6 404.4L1962.4 402.0L1964.3 399.7L1966.2 397.4L1968.1 395.0L1969.9 392.7L1971.8 390.3L1973.7 388.0L1975.6 385.7L1977.5 383.3L1979.3 381.0L1981.2 378.7L1983.1 376.3L1985.0 374.0L1986.9 371.7L1988.8 369.3L1990.7 367.0L1992.6 364.7L1994.5 362.4L1996.4 360.0L1998.3 357.7L2000.2 355.4L2002.1 353.1L2004.0 350.7L2005.9 348.4L2007.8 346.1L2009.7 343.8L2011.6 341.5L2013.5 339.2L2015.4 336.8L2017.3 334.5L2019.2 332.2L2021.1 329.9L2023.0 327.6L2025.0 325.3L2026.9 323.0L2028.8 320.7L2030.7 318.4L2032.6 316.1L2034.6 313.8L2036.5 311.4L2038.4 309.1L2040.3 306.8L2042.3 304.5L2044.2 302.2L2046.1 299.9L2048.0 297.7L2050.0 295.4L2051.9 293.1L2053.8 290.8L2055.8 288.5L2057.7 286.2L2059.7 283.9L2061.6 281.6L2063.5 279.3L2065.5 277.0L2067.4 274.8L2069.4 272.5L2071.3 270.2L2073.3 267.9L2075.2 265.6L2077.2 263.4L2079.2 261.1L2081.1 258.8L2083.1 256.6L2085.0 254.3L2087.0 252.0L2089.0 249.8L2091.0 247.5L2092.9 245.3L2094.9 243.0L2096.9 240.8L2098.9 238.5L2100.9 236.3L2102.9 234.0L2104.9 231.8L2106.9 229.6L2108.9 227.4L2110.9 225.1L2112.9 222.9L2114.9 220.7L2117.0 218.5L2119.0 216.3L2121.0 214.1L2123.1 211.9L2125.1 209.7L2127.1 207.5L2129.2 205.3L2131.3 203.2L2133.3 201.0L2135.4 198.8L2137.5 196.7L2139.5 194.5L2141.6 192.4L2143.7 190.2L2145.8 188.1L2147.9 186.0L2150.0 183.9L2152.1 181.7L2154.2 179.6L2156.4 177.5L2158.5 175.4L2160.6 173.3L2162.8 171.3L2164.9 169.2L2167.1 167.1L2169.3 165.1L2171.4 163.0L2173.6 161.0L2175.8 158.9L2178.0 156.9L2180.2 154.9L2182.4 152.8L2184.6 150.8L2186.9 148.8L2189.1 146.8L2191.4 144.9L2193.6 142.9L2195.9 140.9L2198.1 139.0L2200.4 137.0L2202.7 135.1L2205.0 133.1L2207.3 131.2L2209.6 129.3L2211.9 127.4L2214.2 125.5L2216.5 123.6L2218.9 121.7L2221.2 119.8L2223.6 117.9L2225.9 116.0L2228.2 114.2L2230.6 112.3L2233.0 110.4L2235.3 108.6L2237.7 106.7L2240.0 104.9L2242.4 103.0L2244.8 101.2L2247.1 99.3L2249.5 97.4L2251.9 95.6L2254.3 93.7L2256.6 91.9L2259.0 90.0L2261.4 88.2L2263.7 86.3L2266.1 84.5L2268.5 82.6L2270.8 80.8L2273.2 78.9L2275.5 77.0L2277.9 75.2L2280.2 73.3L2282.6 71.4L2284.9 69.5L2287.3 67.7L2289.6 65.8L2291.9 63.9L2294.3 62.0L2296.6 60.1L2298.9 58.1L2301.2 56.2L2303.5 54.3L2305.8 52.4L2308.0 50.4L2310.3 48.5L2312.6 46.5L2314.8 44.5L2317.1 42.5L2319.3 40.5L2321.5 38.5L2323.8 36.5L2326.0 34.5L2328.2 32.5L2330.3 30.4L2332.5 28.4L2334.7 26.3L2336.8 24.2L2338.9 22.1L2341.1 20.0L2343.2 17.9L2345.3 15.7L2347.3 13.6L2349.4 11.4"/>
<path stroke="#A5A5A5" d="M313.0 1640.9L313.5 1638.0L314.0 1635.1L314.5 1632.1L315.0 1629.2L315.6 1626.2L316.1 1623.3L316.6 1620.4L317.2 1617.4L317.8 1614.5L318.3 1611.5L318.9 1608.6L319.5 1605.7L320.1 1602.7L320.7 1599.8L321.3 1596.9L321.9 1593.9L322.5 1591.0L323.1 1588.1L323.7 1585.1L324.3 1582.2L325.0 1579.3L325.6 1576.3L326.3 1573.4L326.9 1570.5L327.5 1567.5L328.2 1564.6L328.9 1561.7L329.5 1558.8L330.2 1555.8L330.9 1552.9L331.5 1550.0L332.2 1547.0L332.9 1544.1L333.6 1541.2L334.2 1538.3L334.9 1535.3L335.6 1532.4L336.3 1529.5L337.0 1526.6L337.7 1523.7L338.4 1520.7L339.1 1517.8L339.8 1514.9L340.5 1512.0L341.2 1509.0L341.9 1506.1L342.6 1503.2L343.3 1500.3L344.0 1497.4L344.8 1494.4L345.5 1491.5L346.2 1488.6L346.9 1485.7L347.6 1482.8L348.3 1479.9L349.0 1476.9L349.7 1474.0L350.4 1471.1L351.1 1468.2L351.8 1465.3L352.5 1462.4L353.3 1459.4L354.0 1456.5L354.7 1453.6L355.4 1450.7L356.1 1447.8L356.7 1444.9L357.4 1442.0L358.1 1439.0L358.8 1436.1L359.5 1433.2L360.2 1430.3L360.9 1427.4L361.6 1424.5L362.2 1421.6L362.9 1418.7L363.6 1415.8L364.3 1412.8L364.9 1409.9L365.6 1407.0L366.3 1404.1L367.0 1401.2L367.7 1398.3L368.4 1395.4L369.1 1392.5L369.8 1389.6L370.5 1386.7L371.2 1383.8L372.0 1380.9L372.7 1378.0L373.5 1375.1L374.2 1372.3L375.0 1369.4L375.8 1366.5L376.6 1363.6L377.5 1360.7L378.3 1357.9L379.2 1355.0L380.0 1352.1L380.9 1349.2L381.8 1346.4L382.8 1343.5L383.7 1340.7L384.7 1337.8L385.7 1335.0L386.7 1332.1L387.8 1329.3L388.9 1326.4L390.0 1323.6L391.1 1320.8L392.3 1317.9L393.4 1315.1L394.6 1312.3L395.9 1309.5L397.2 1306.7L398.5 1304.0L399.9 1301.3L401.4 1298.6L402.9 1296.0L404.5 1293.5L406.2 1291.1L408.0 1288.7L409.9 1286.5L411.8 1284.3L413.9 1282.3L416.1 1280.4L418.5 1278.7L421.0 1277.1L423.6 1275.7L426.3 1274.4L429.0 1273.3L431.9 1272.4L434.8 1271.7L437.7 1271.2L440.7 1270.9L443.7 1270.8L446.6 1270.9L449.5 1271.3L452.4 1271.9L455.2 1272.7L457.9 1273.8L460.5 1275.1L462.9 1276.7L465.3 1278.5L467.6 1280.5L469.9 1282.7L472.0 1285.0L474.1 1287.4L476.1 1290.0L478.0 1292.6L480.0 1295.2L481.8 1297.9L483.7 1300.5L485.5 1303.1L487.3 1305.7L489.2 1308.2L491.0 1310.5L492.8 1312.8L494.6 1315.0L496.4 1317.1L498.2 1319.2L500.0 1321.2L501.8 1323.3L503.6 1325.3L505.4 1327.3L507.2 1329.4L509.0 1331.5L510.8 1333.7L512.6 1336.0L514.4 1338.4L516.1 1340.9L517.9 1343.5L519.7 1346.1L521.4 1348.8L523.2 1351.6L525.0 1354.4L526.8 1357.1L528.6 1359.9L530.5 1362.7L532.4 1365.4L534.3 1368.1L536.3 1370.7L538.3 1373.2L540.4 1375.6L542.5 1377.8L544.6 1380.0L546.9 1382.0L549.2 1383.8L551.5 1385.4L554.0 1386.8L556.5 1388.0L559.1 1389.0L561.7 1389.7L564.5 1390.1L567.3 1390.4L570.2 1390.4L573.1 1390.2L576.0 1389.9L578.9 1389.4L581.9 1388.7L584.8 1387.9L587.6 1386.9L590.4 1385.9L593.2 1384.7L595.9 1383.5L598.5 1382.2L601.1 1380.8L603.6 1379.4L606.0 1377.8L608.4 1376.2L610.8 1374.5L613.0 1372.8L615.3 1371.0L617.4 1369.1L619.6 1367.1L621.6 1365.1L623.7 1363.1L625.6 1360.9L627.6 1358.8L629.5 1356.5L631.3 1354.3L633.1 1351.9L634.9 1349.6L636.6 1347.2L638.3 1344.7L640.0 1342.2L641.6 1339.7L643.2 1337.2L644.8 1334.6L646.4 1332.0L647.9 1329.3L649.4 1326.7L650.8 1324.0L652.3 1321.3L653.7 1318.6L655.1 1315.8L656.5 1313.1L657.9 1310.3L659.2 1307.5L660.6 1304.8L661.9 1302.0L663.2 1299.2L664.5 1296.4L665.8 1293.6L667.1 1290.8L668.4 1288.0L669.7 1285.3L671.0 1282.5L672.2 1279.7L673.5 1276.9L674.7 1274.1L675.9 1271.3L677.2 1268.5L678.4 1265.7L679.6 1262.9L680.8 1260.1L682.0 1257.3L683.2 1254.6L684.4 1251.8L685.5 1249.0L686.7 1246.2L687.9 1243.4L689.0 1240.6L690.2 1237.8L691.3 1235.0L692.5 1232.2L693.6 1229.4L694.8 1226.6L695.9 1223.8L697.0 1221.0L698.1 1218.2L699.3 1215.4L700.4 1212.6L701.5 1209.8L702.6 1207.1L703.7 1204.3L704.8 1201.5L705.9 1198.7L707.0 1195.9L708.1 1193.1L709.2 1190.3L710.3 1187.5L711.4 1184.8L712.5 1182.0L713.6 1179.2L714.7 1176.4L715.8 1173.6L716.9 1170.8L717.9 1168.1L719.0 1165.3L720.1 1162.5L721.2 1159.7L722.3 1157.0L723.4 1154.2L724.5 1151.4L725.6 1148.7L726.7 1145.9L727.8 1143.1L728.9 1140.4L730.0 1137.6L731.1 1134.9L732.2 1132.1L733.3 1129.4L734.5 1126.6L735.6 1123.9L736.7 1121.1L737.8 1118.4L739.0 1115.6L740.1 1112.9L741.2 1110.2L742.4 1107.4L743.5 1104.7L744.7 1102.0L745.9 1099.3L747.0 1096.5L748.2 1093.8L749.4 1091.1L750.6 1088.4L751.7 1085.7L752.9 1083.0L754.2 1080.3L755.4 1077.6L756.6 1074.9L757.8 1072.2L759.0 1069.5L760.3 1066.8L761.5 1064.1L762.8 1061.4L764.1 1058.8L765.3 1056.1L766.6 1053.4L767.9 1050.8L769.2 1048.1L770.6 1045.4L771.9 1042.8L773.2 1040.1L774.6 1037.5L775.9 1034.9L777.3 1032.2L778.7 1029.6L780.0 1027.0L781.4 1024.3L782.9 1021.7L784.3 1019.1L785.7 1016.5L787.2 1013.9L788.6 1011.3L790.1 1008.7L791.5 1006.1L793.0 1003.5L794.5 1000.9L796.0 998.3L797.5 995.7L799.0 993.2L800.5 990.6L802.1 988.0L803.6 985.4L805.2 982.9L806.7 980.3L808.3 977.7L809.8 975.2L811.4 972.6L813.0 970.1L814.6 967.5L816.2 965.0L817.7 962.4L819.3 959.9L821.0 957.3L822.6 954.8L824.2 952.3L825.8 949.7L827.4 947.2L829.1 944.7L830.7 942.1L832.3 939.6L834.0 937.1L835.6 934.5L837.3 932.0L838.9 929.5L840.6 927.0L842.2 924.5L843.9 921.9L845.5 919.4L847.2 916.9L848.8 914.4L850.5 911.9L852.2 909.3L853.8 906.8L855.5 904.3L857.1 901.8L858.8 899.3L860.5 896.8L862.1 894.3L863.8 891.8L865.5 889.2L867.1 886.7L868.8 884.2L870.4 881.7L872.1 879.2L873.8 876.7L875.4 874.2L877.1 871.7L878.7 869.1L880.4 866.6L882.0 864.1L883.6 861.6L885.3 859.1L886.9 856.6L888.5 854.0L890.1 851.5L891.7 849.0L893.3 846.5L894.9 843.9L896.5 841.4L898.1 838.9L899.7 836.3L901.3 833.8L902.8 831.2L904.4 828.7L905.9 826.1L907.5 823.6L909.0 821.0L910.5 818.4L912.0 815.9L913.5 813.3L915.0 810.7L916.5 808.1L918.0 805.5L919.4 802.9L920.9 800.3L922.3 797.7L923.7 795.1L925.1 792.5L926.5 789.9L927.9 787.3L929.2 784.6L930.6 782.0L931.9 779.3L933.2 776.7L934.5 774.0L935.8 771.3L937.1 768.6L938.4 766.0L939.6 763.3L940.8 760.5L942.0 757.8L943.2 755.1L944.4 752.4L945.5 749.6L946.6 746.9L947.8 744.1L948.9 741.4L949.9 738.6L951.0 735.8L952.1 733.0L953.1 730.3L954.1 727.5L955.1 724.7L956.1 721.8L957.1 719.0L958.1 716.2L959.0 713.4L960.0 710.5L960.9 707.7L961.8 704.8L962.7 702.0L963.6 699.1L964.5 696.3L965.4 693.4L966.2 690.5L967.1 687.6L967.9 684.8L968.8 681.9L969.6 679.0L970.4 676.1L971.2 673.2L972.0 670.3L972.8 667.4L973.6 664.5L974.4 661.6L975.2 658.7L976.0 655.7L976.7 652.8L977.5 649.9L978.2 647.0L979.0 644.1L979.7 641.1L980.5 638.2L981.2 635.3L981.9 632.4L982.7 629.4L983.4 626.5L984.1 623.6L984.9 620.6L985.6 617.7L986.3 614.8L987.0 611.8L987.8 608.9L988.5 606.0L989.2 603.0L989.9 600.1L990.6 597.2L991.4 594.2L992.1 591.3L992.8 588.4L993.6 585.5L994.3 582.5L995.0 579.6L995.8 576.7L996.5 573.8L997.3 570.9L998.0 568.0L998.8 565.1L999.5 562.2L1000.3 559.3L1001.1 556.4L1001.8 553.5L1002.6 550.6L1003.4 547.7L1004.2 544.8L1005.0 541.9L1005.8 539.0L1006.5 536.1L1007.3 533.2L1008.1 530.3L1008.9 527.5L1009.8 524.6L1010.6 521.7L1011.4 518.8L1012.2 516.0L1013.0 513.1L1013.8 510.2L1014.6 507.4L1015.5 504.5L1016.3 501.6L1017.1 498.7L1017.9 495.9L1018.7 493.0L1019.6 490.2L1020.4 487.3L1021.2 484.4L1022.1 481.6L1022.9 478.7L1023.7 475.8L1024.6 473.0L1025.4 470.1L1026.2 467.3L1027.1 464.4L1027.9 461.5L1028.7 458.7L1029.6 455.8L1030.4 453.0L1031.2 450.1L1032.0 447.2L1032.9 444.4L1033.7 441.5L1034.5 438.6L1035.4 435.8L1036.2 432.9L1037.0 430.0L1037.8 427.2L1038.7 424.3L1039.5 421.4L1040.3 418.6L1041.1 415.7L1041.9 412.8L1042.7 410.0L1043.5 407.1L1044.3 404.2L1045.2 401.3L1046.0 398.5L1046.8 395.6L1047.5 392.7L1048.3 389.8L1049.1 386.9L1049.9 384.0L1050.7 381.1L1051.5 378.3L1052.3 375.4L1053.0 372.5L1053.8 369.6L1054.6 366.7L1055.3 363.8L1056.1 360.9L1056.9 358.0L1057.7 355.1L1058.4 352.2L1059.2 349.3L1060.0 346.4L1060.8 343.5L1061.6 340.6L1062.4 337.7L1063.2 334.8L1064.0 331.9L1064.9 329.0L1065.7 326.2L1066.6 323.3L1067.4 320.4L1068.3 317.5L1069.2 314.7L1070.1 311.8L1071.0 308.9L1072.0 306.1L1072.9 303.2L1073.9 300.4L1074.9 297.6L1075.9 294.7L1076.9 291.9L1077.9 289.1L1079.0 286.3L1080.1 283.5L1081.2 280.7L1082.3 277.9L1083.5 275.2L1084.7 272.4L1085.9 269.6L1087.1 266.9L1088.4 264.1L1089.7 261.4L1091.0 258.7L1092.4 256.0L1093.7 253.3L1095.2 250.6L1096.6 247.9L1098.1 245.3L1099.6 242.7L1101.2 240.1L1102.9 237.6L1104.7 235.2L1106.6 232.9L1108.6 230.8L1110.7 228.8L1113.0 227.0L1115.4 225.4L1118.1 223.9L1120.9 222.7L1123.7 221.8L1126.7 221.0L1129.8 220.5L1132.8 220.2L1135.9 220.2L1138.9 220.4L1141.9 220.8L1144.7 221.6L1147.4 222.5L1150.0 223.8L1152.4 225.3L1154.6 227.1L1156.7 229.1L1158.7 231.2L1160.5 233.6L1162.2 236.0L1163.9 238.6L1165.4 241.3L1166.8 244.1L1168.2 246.9L1169.6 249.7L1170.9 252.6L1172.1 255.4L1173.3 258.2L1174.5 261.1L1175.6 263.9L1176.7 266.7L1177.8 269.6L1178.8 272.4L1179.8 275.2L1180.8 278.0L1181.8 280.9L1182.8 283.7L1183.7 286.5L1184.6 289.3L1185.6 292.1L1186.5 295.0L1187.4 297.8L1188.3 300.6L1189.2 303.4L1190.1 306.2L1191.0 309.0L1191.9 311.8L1192.8 314.7L1193.7 317.5L1194.7 320.3L1195.6 323.1L1196.6 325.9L1197.6 328.7L1198.6 331.6L1199.5 334.4L1200.5 337.2L1201.5 340.0L1202.6 342.8L1203.6 345.6L1204.6 348.5L1205.6 351.3L1206.7 354.1L1207.7 356.9L1208.8 359.7L1209.9 362.5L1210.9 365.3L1212.0 368.2L1213.1 371.0L1214.2 373.8L1215.2 376.6L1216.3 379.4L1217.4 382.2L1218.5 385.0L1219.6 387.8L1220.7 390.7L1221.8 393.5L1223.0 396.3L1224.1 399.1L1225.2 401.9L1226.3 404.7L1227.4 407.5L1228.5 410.3L1229.6 413.1L1230.8 415.9L1231.9 418.7L1233.0 421.5L1234.1 424.3L1235.2 427.1L1236.3 429.8L1237.5 432.6L1238.6 435.4L1239.7 438.2L1240.8 441.0L1241.9 443.8L1243.0 446.6L1244.1 449.3L1245.2 452.1L1246.3 454.9L1247.3 457.7L1248.4 460.4L1249.5 463.2L1250.6 466.0L1251.7 468.7L1252.7 471.5L1253.8 474.3L1254.9 477.0L1256.0 479.8L1257.1 482.6L1258.2 485.3L1259.3 488.1L1260.4 490.8L1261.5 493.6L1262.6 496.4L1263.7 499.1L1264.8 501.9L1266.0 504.6L1267.1 507.4L1268.3 510.2L1269.4 512.9L1270.6 515.7L1271.8 518.4L1273.0 521.2L1274.2 523.9L1275.4 526.7L1276.6 529.5L1277.9 532.2L1279.1 535.0L1280.4 537.7L1281.7 540.5L1283.0 543.3L1284.3 546.0L1285.7 548.8L1287.0 551.6L1288.4 554.3L1289.9 557.0L1291.3 559.7L1292.8 562.4L1294.3 565.1L1295.9 567.7L1297.6 570.2L1299.2 572.8L1301.0 575.2L1302.8 577.6L1304.7 580.0L1306.6 582.3L1308.6 584.4L1310.7 586.4L1312.9 588.1L1315.2 589.4L1317.6 590.2L1320.1 590.5L1322.8 590.2L1325.5 589.5L1328.2 588.3L1330.9 586.9L1333.5 585.2L1336.1 583.3L1338.5 581.4L1340.8 579.3L1343.0 577.2L1345.0 575.0L1347.0 572.7L1348.8 570.4L1350.6 568.0L1352.2 565.5L1353.8 563.0L1355.3 560.4L1356.8 557.8L1358.2 555.2L1359.5 552.5L1360.8 549.8L1362.1 547.1L1363.3 544.3L1364.5 541.5L1365.7 538.8L1366.8 536.0L1368.0 533.2L1369.1 530.4L1370.3 527.6L1371.4 524.8L1372.5 522.0L1373.6 519.2L1374.7 516.4L1375.8 513.6L1376.9 510.8L1377.9 508.0L1379.0 505.2L1380.0 502.4L1381.1 499.5L1382.1 496.7L1383.1 493.9L1384.2 491.0L1385.2 488.2L1386.2 485.4L1387.2 482.5L1388.1 479.7L1389.1 476.8L1390.1 474.0L1391.0 471.1L1392.0 468.3L1392.9 465.4L1393.9 462.6L1394.8 459.7L1395.7 456.9L1396.6 454.0L1397.5 451.1L1398.4 448.3L1399.3 445.4L1400.2 442.5L1401.1 439.7L1402.0 436.8L1402.8 433.9L1403.7 431.0L1404.6 428.1L1405.4 425.3L1406.3 422.4L1407.1 419.5L1407.9 416.6L1408.8 413.7L1409.6 410.9L1410.4 408.0L1411.2 405.1L1412.0 402.2L1412.8 399.3L1413.6 396.4L1414.4 393.5L1415.2 390.6L1416.0 387.7L1416.8 384.8L1417.6 382.0L1418.4 379.1L1419.1 376.2L1419.9 373.3L1420.7 370.4L1421.4 367.5L1422.2 364.6L1423.0 361.7L1423.7 358.8L1424.5 355.9L1425.2 353.0L1426.0 350.1L1426.7 347.2L1427.5 344.3L1428.2 341.4L1428.9 338.6L1429.7 335.7L1430.4 332.8L1431.1 329.9L1431.9 327.0L1432.6 324.1L1433.3 321.2L1434.1 318.3L1434.8 315.5L1435.5 312.6L1436.2 309.7L1437.0 306.8L1437.7 303.9L1438.4 301.0L1439.2 298.2L1439.9 295.3L1440.7 292.4L1441.4 289.5L1442.1 286.7L1442.9 283.8L1443.7 280.9L1444.4 278.1L1445.2 275.2L1446.0 272.3L1446.8 269.5L1447.6 266.6L1448.4 263.7L1449.2 260.9L1450.0 258.0L1450.9 255.1L1451.7 252.3L1452.6 249.4L1453.5 246.6L1454.4 243.7L1455.3 240.9L1456.2 238.0L1457.1 235.1L1458.0 232.3L1459.0 229.4L1460.0 226.6L1461.0 223.8L1462.0 220.9L1463.0 218.1L1464.1 215.2L1465.2 212.4L1466.2 209.5L1467.4 206.7L1468.5 203.9L1469.6 201.0L1470.8 198.2L1472.0 195.4L1473.2 192.5L1474.5 189.7L1475.7 186.9L1477.1 184.1L1478.4 181.3L1479.8 178.6L1481.3 175.9L1482.8 173.3L1484.4 170.7L1486.1 168.2L1487.8 165.8L1489.7 163.5L1491.6 161.2L1493.6 159.1L1495.8 157.1L1498.0 155.2L1500.4 153.5L1502.9 151.9L1505.4 150.7L1508.0 149.8L1510.6 149.3L1513.2 149.5L1515.7 150.1L1518.1 151.2L1520.4 152.7L1522.5 154.5L1524.5 156.5L1526.2 158.7L1527.7 161.0L1529.1 163.5L1530.4 166.1L1531.5 168.8L1532.5 171.7L1533.4 174.6L1534.2 177.6L1534.9 180.7L1535.6 183.8L1536.3 186.9L1536.9 190.1L1537.5 193.3L1538.1 196.4L1538.8 199.6L1539.4 202.7L1540.1 205.7L1540.8 208.8L1541.5 211.8L1542.2 214.9L1542.9 217.9L1543.7 220.8L1544.4 223.8L1545.2 226.8L1546.0 229.7L1546.7 232.6L1547.5 235.6L1548.3 238.5L1549.1 241.4L1549.9 244.2L1550.7 247.1L1551.5 250.0L1552.3 252.9L1553.1 255.7L1553.9 258.6L1554.7 261.5L1555.5 264.3L1556.3 267.2L1557.1 270.0L1557.8 272.9L1558.6 275.8L1559.4 278.7L1560.1 281.5L1560.9 284.4L1561.6 287.3L1562.4 290.1L1563.1 293.0L1563.9 295.9L1564.6 298.8L1565.3 301.7L1566.1 304.5L1566.8 307.4L1567.5 310.3L1568.2 313.2L1568.9 316.1L1569.6 319.0L1570.3 321.9L1571.0 324.8L1571.7 327.7L1572.4 330.6L1573.1 333.5L1573.8 336.4L1574.5 339.3L1575.1 342.2L1575.8 345.1L1576.5 348.0L1577.2 350.9L1577.8 353.8L1578.5 356.7L1579.1 359.6L1579.8 362.5L1580.4 365.4L1581.1 368.3L1581.7 371.2L1582.4 374.1L1583.0 377.1L1583.7 380.0L1584.3 382.9L1584.9 385.8L1585.6 388.7L1586.2 391.6L1586.8 394.6L1587.4 397.5L1588.1 400.4L1588.7 403.3L1589.3 406.2L1589.9 409.2L1590.5 412.1L1591.1 415.0L1591.8 417.9L1592.4 420.9L1593.0 423.8L1593.6 426.7L1594.2 429.7L1594.8 432.6L1595.4 435.5L1596.0 438.5L1596.6 441.4L1597.2 444.3L1597.8 447.2L1598.4 450.2L1599.0 453.1L1599.6 456.1L1600.2 459.0L1600.8 461.9L1601.4 464.9L1602.0 467.8L1602.6 470.7L1603.2 473.7L1603.8 476.6L1604.4 479.6L1604.9 482.5L1605.5 485.4L1606.1 488.4L1606.7 491.3L1607.3 494.3L1607.9 497.2L1608.5 500.1L1609.1 503.1L1609.7 506.0L1610.3 509.0L1610.9 511.9L1611.5 514.8L1612.1 517.8L1612.7 520.7L1613.3 523.7L1613.9 526.6L1614.5 529.6L1615.1 532.5L1615.7 535.4L1616.3 538.4L1616.9 541.3L1617.6 544.3L1618.2 547.2L1618.8 550.2L1619.4 553.1L1620.0 556.1L1620.6 559.0L1621.2 561.9L1621.9 564.9L1622.5 567.8L1623.1 570.8L1623.7 573.7L1624.4 576.7L1625.0 579.6L1625.6 582.5L1626.3 585.5L1626.9 588.4L1627.6 591.4L1628.2 594.3L1628.9 597.3L1629.5 600.2L1630.2 603.1L1630.8 606.1L1631.5 609.0L1632.1 612.0L1632.8 614.9L1633.5 617.8L1634.2 620.8L1634.8 623.7L1635.5 626.6L1636.2 629.6L1636.9 632.5L1637.6 635.5L1638.3 638.4L1639.0 641.3L1639.7 644.3L1640.4 647.2L1641.1 650.1L1641.8 653.1L1642.5 656.0L1643.2 658.9L1644.0 661.9L1644.7 664.8L1645.4 667.7L1646.2 670.6L1646.9 673.6L1647.7 676.5L1648.4 679.4L1649.2 682.3L1650.0 685.2L1650.8 688.2L1651.6 691.0L1652.4 693.9L1653.3 696.8L1654.1 699.7L1655.0 702.6L1655.9 705.4L1656.9 708.2L1657.8 711.1L1658.8 713.9L1659.8 716.7L1660.8 719.5L1661.9 722.2L1663.0 725.0L1664.1 727.7L1665.3 730.4L1666.5 733.1L1667.8 735.8L1669.0 738.4L1670.4 741.0L1671.7 743.6L1673.1 746.2L1674.6 748.8L1676.1 751.3L1677.6 753.8L1679.2 756.3L1680.9 758.7L1682.6 761.1L1684.3 763.5L1686.1 765.9L1688.0 768.2L1689.9 770.5L1691.9 772.7L1693.9 774.9L1696.0 777.1L1698.2 779.2L1700.4 781.4L1702.7 783.4L1705.1 785.4L1707.5 787.4L1710.0 789.4L1712.6 791.2L1715.2 793.0L1717.9 794.6L1720.6 796.1L1723.4 797.3L1726.2 798.3L1729.0 799.0L1731.9 799.4L1734.7 799.5L1737.6 799.2L1740.5 798.6L1743.4 797.8L1746.3 796.7L1749.2 795.5L1752.0 794.2L1754.9 792.7L1757.7 791.3L1760.5 789.9L1763.3 788.5L1766.1 787.1L1768.9 785.8L1771.7 784.6L1774.6 783.6L1777.4 782.7L1780.3 782.0L1783.2 781.4L1786.1 781.1L1789.0 780.9L1792.0 780.8L1794.9 780.8L1797.9 780.8L1800.9 780.9L1803.9 781.0L1806.9 781.0L1809.9 780.9L1812.9 780.8L1815.9 780.6L1818.8 780.2L1821.8 779.8L1824.7 779.2L1827.6 778.5L1830.5 777.8L1833.5 777.0L1836.4 776.1L1839.3 775.1L1842.1 774.1L1845.0 773.0L1847.9 771.9L1850.8 770.8L1853.6 769.6L1856.5 768.4L1859.3 767.2L1862.2 766.0L1865.0 764.7L1867.9 763.5L1870.7 762.3L1873.6 761.1L1876.4 759.9L1879.2 758.8L1882.1 757.7L1884.9 756.6L1887.7 755.6L1890.6 754.7L1893.4 753.8L1896.2 753.0L1899.1 752.3L1901.9 751.7L1904.8 751.1L1907.6 750.7L1910.5 750.4L1913.3 750.2L1916.2 750.1L1919.0 750.1L1921.9 750.2L1924.8 750.5L1927.7 750.8L1930.6 751.2L1933.5 751.6L1936.4 752.1L1939.3 752.5L1942.3 753.0L1945.2 753.5L1948.2 754.0L1951.2 754.4L1954.2 754.8L1957.2 755.2L1960.3 755.4L1963.3 755.6L1966.4 755.7L1969.5 755.8L1972.6 755.8L1975.7 755.7L1978.7 755.5L1981.8 755.3L1984.9 755.0L1987.9 754.7L1991.0 754.3L1994.0 753.8L1997.0 753.2L2000.0 752.6L2002.9 752.0L2005.9 751.2L2008.8 750.4L2011.6 749.5L2014.4 748.6L2017.2 747.6L2020.0 746.6L2022.7 745.4L2025.3 744.3L2028.0 743.0L2030.6 741.8L2033.2 740.4L2035.7 739.0L2038.2 737.6L2040.7 736.1L2043.2 734.6L2045.6 733.0L2048.1 731.4L2050.5 729.7L2052.8 728.0L2055.2 726.3L2057.5 724.5L2059.8 722.7L2062.1 720.9L2064.4 719.0L2066.6 717.1L2068.8 715.1L2071.1 713.2L2073.3 711.2L2075.5 709.2L2077.7 707.1L2079.8 705.1L2082.0 703.0L2084.1 700.9L2086.3 698.8L2088.4 696.7L2090.6 694.5L2092.7 692.4L2094.8 690.2L2096.9 688.0L2099.1 685.9L2101.2 683.7L2103.3 681.5L2105.4 679.3L2107.6 677.1L2109.7 674.9L2111.8 672.7L2114.0 670.6L2116.1 668.4L2118.2 666.2L2120.4 664.1L2122.6 661.9L2124.8 659.8L2126.9 657.7L2129.2 655.5L2131.4 653.5L2133.6 651.4L2135.8 649.3L2138.1 647.3L2140.4 645.2L2142.6 643.2L2144.9 641.2L2147.2 639.2L2149.5 637.2L2151.8 635.2L2154.1 633.3L2156.4 631.3L2158.7 629.4L2161.0 627.4L2163.3 625.5L2165.6 623.5L2168.0 621.6L2170.3 619.6L2172.6 617.7L2174.9 615.8L2177.2 613.8L2179.5 611.9L2181.8 610.0L2184.1 608.0L2186.3 606.1L2188.6 604.1L2190.9 602.2L2193.1 600.2L2195.4 598.2L2197.6 596.3L2199.8 594.3L2202.0 592.3L2204.2 590.3L2206.4 588.3L2208.5 586.3L2210.7 584.2L2212.8 582.2L2214.9 580.1L2217.0 578.0L2219.1 575.9L2221.1 573.8L2223.1 571.6L2225.1 569.5L2227.1 567.3L2229.0 565.1L2231.0 562.9L2232.9 560.7L2234.7 558.4L2236.6 556.1L2238.4 553.8L2240.2 551.5L2241.9 549.1L2243.7 546.7L2245.4 544.3L2247.0 541.9L2248.7 539.5L2250.3 537.0L2251.9 534.5L2253.5 532.0L2255.1 529.5L2256.6 526.9L2258.1 524.4L2259.6 521.8L2261.1 519.2L2262.5 516.6L2264.0 513.9L2265.4 511.3L2266.8 508.7L2268.2 506.0L2269.5 503.3L2270.9 500.6L2272.2 497.9L2273.5 495.2L2274.8 492.5L2276.1 489.7L2277.4 487.0L2278.7 484.2L2279.9 481.4L2281.2 478.7L2282.4 475.9L2283.6 473.1L2284.8 470.3L2286.0 467.5L2287.2 464.7L2288.4 461.9L2289.6 459.1L2290.8 456.3L2291.9 453.5L2293.1 450.7L2294.3 447.8L2295.4 445.0L2296.6 442.2L2297.7 439.4L2298.9 436.6L2300.0 433.7L2301.2 430.9L2302.3 428.1L2303.5 425.3L2304.6 422.5L2305.8 419.7L2306.9 416.9L2308.1 414.1L2309.2 411.4L2310.4 408.6L2311.5 405.8L2312.7 403.0L2313.9 400.3L2315.1 397.5L2316.2 394.8L2317.4 392.0L2318.6 389.3L2319.8 386.6L2320.9 383.8L2322.1 381.1L2323.3 378.4L2324.5 375.6L2325.7 372.9L2326.9 370.2L2328.0 367.5L2329.2 364.7L2330.4 362.0L2331.6 359.3L2332.8 356.6L2334.0 353.9L2335.1 351.2L2336.3 348.4L2337.5 345.7L2338.7 343.0L2339.8 340.3L2341.0 337.5L2342.2 334.8L2343.3 332.1L2344.5 329.4L2345.7 326.6L2346.8 323.9L2348.0 321.1L2349.1 318.4L2350.3 315.7L2351.4 312.9L2352.5 310.1L2353.7 307.4L2354.8 304.6L2355.9 301.8L2357.0 299.0L2358.1 296.3L2359.2 293.5L2360.3 290.7L2361.4 287.9L2362.5 285.0L2363.6 282.2L2364.7 279.4L2365.7 276.5L2366.8 273.7L2367.8 270.8L2368.9 268.0L2369.9 265.1L2370.9 262.2L2372.0 259.3L2373.0 256.4"/>
</g>
<g class="tick">
<text x="251.5" y="219.1" text-anchor="end">740</text>
<text x="251.5" y="557.3" text-anchor="end">720</text>
<text x="251.5" y="895.4" text-anchor="end">700</text>
<text x="251.5" y="1233.6" text-anchor="end">680</text>
<text x="251.5" y="1571.7" text-anchor="end">660</text>
<text x="251.5" y="1909.8" text-anchor="end">640</text>
<text x="314.5" y="1993.5" text-anchor="middle">5810</text>
<text x="829.0" y="1993.5" text-anchor="middle">5910</text>
<text x="1343.0" y="1993.5" text-anchor="middle">6010</text>
<text x="1857.0" y="1993.5" text-anchor="middle">6110</text>
<text x="2372.0" y="1993.5" text-anchor="middle">6210</text>
</g>
<g stroke-width="7.5" stroke-linecap="round">
<line x1="680.5" y1="1645.1" x2="826.5" y2="1645.1" stroke="#FFC000"/>
<line x1="680.5" y1="1724.3" x2="826.5" y2="1724.3" stroke="#FF0000"/>
<line x1="680.5" y1="1802.9" x2="826.5" y2="1802.9" stroke="#00C800"/>
<line x1="1621.5" y1="1645.1" x2="1765.5" y2="1645.1" stroke="#00A0FF"/>
<line x1="1621.5" y1="1724.3" x2="1765.5" y2="1724.3" stroke="#000000"/>
<line x1="1621.5" y1="1802.9" x2="1765.5" y2="1802.9" stroke="#A5A5A5"/>
</g>
<g class="leg">
<text x="841.5" y="1665.6" textLength="329.8" lengthAdjust="spacing">SGM_const</text>
<text x="841.5" y="1745.6" textLength="344.1" lengthAdjust="spacing">SGM_canny</text>
<text x="841.5" y="1819.5" textLength="170.8" lengthAdjust="spacing">SRTM</text>
<text x="1781" y="1665.6" textLength="299.2" lengthAdjust="spacing">SGM_gray</text>
<text x="1781" y="1745.6" textLength="451.9" lengthAdjust="spacing">Reference DSM</text>
<text x="1781" y="1819.5" textLength="126.6" lengthAdjust="spacing">NCC</text>
</g>
<text class="title" x="1341.7" y="2110" text-anchor="middle" textLength="505" lengthAdjust="spacing">Distance (m)</text>
<text class="title" x="1228.6" y="2226" text-anchor="middle" textLength="105.5" lengthAdjust="spacingAndGlyphs">(b)</text>
<text class="title" transform="translate(95.7,961.2) rotate(-90)" x="0" y="0" text-anchor="middle" textLength="400" lengthAdjust="spacingAndGlyphs">Height (m)</text>
</svg>
</body></html>
